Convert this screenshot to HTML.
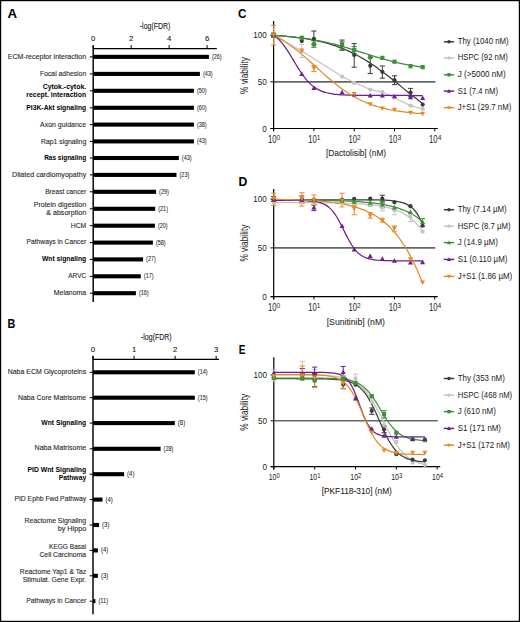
<!DOCTYPE html>
<html><head><meta charset="utf-8"><style>
html,body{margin:0;padding:0;background:#fff;}
body{width:520px;height:622px;overflow:hidden;}
svg{display:block;font-family:"Liberation Sans", sans-serif;}
</style></head><body>
<svg width="520" height="622" viewBox="0 0 520 622">
<rect x="0" y="0" width="520" height="622" fill="#fff"/>
<text x="7.40" y="18.40" font-size="13.2" text-anchor="start" font-weight="bold" fill="#000" textLength="9.60" lengthAdjust="spacingAndGlyphs" >A</text>
<text x="7.60" y="328.40" font-size="12.2" text-anchor="start" font-weight="bold" fill="#000" textLength="7.80" lengthAdjust="spacingAndGlyphs" >B</text>
<text x="238.00" y="17.90" font-size="12.2" text-anchor="start" font-weight="bold" fill="#000" textLength="8.40" lengthAdjust="spacingAndGlyphs" >C</text>
<text x="238.40" y="185.90" font-size="12.2" text-anchor="start" font-weight="bold" fill="#000" textLength="8.80" lengthAdjust="spacingAndGlyphs" >D</text>
<text x="238.70" y="354.10" font-size="12.4" text-anchor="start" font-weight="bold" fill="#000" textLength="6.70" lengthAdjust="spacingAndGlyphs" >E</text>
<line x1="93.20" y1="48.60" x2="216.80" y2="48.60" stroke="#000" stroke-width="1.35"/>
<line x1="93.20" y1="45.40" x2="93.20" y2="302.00" stroke="#000" stroke-width="1.45"/>
<line x1="93.20" y1="45.10" x2="93.20" y2="48.60" stroke="#000" stroke-width="1"/>
<text x="93.20" y="40.80" font-size="8.0" text-anchor="middle" font-weight="normal" fill="#1a1a1a" textLength="4.30" lengthAdjust="spacingAndGlyphs"  stroke="#1a1a1a" stroke-width="0.12">0</text>
<line x1="131.16" y1="45.10" x2="131.16" y2="48.60" stroke="#000" stroke-width="1"/>
<text x="131.16" y="40.80" font-size="8.0" text-anchor="middle" font-weight="normal" fill="#1a1a1a" textLength="4.30" lengthAdjust="spacingAndGlyphs"  stroke="#1a1a1a" stroke-width="0.12">2</text>
<line x1="169.12" y1="45.10" x2="169.12" y2="48.60" stroke="#000" stroke-width="1"/>
<text x="169.12" y="40.80" font-size="8.0" text-anchor="middle" font-weight="normal" fill="#1a1a1a" textLength="4.30" lengthAdjust="spacingAndGlyphs"  stroke="#1a1a1a" stroke-width="0.12">4</text>
<line x1="207.08" y1="45.10" x2="207.08" y2="48.60" stroke="#000" stroke-width="1"/>
<text x="207.08" y="40.80" font-size="8.0" text-anchor="middle" font-weight="normal" fill="#1a1a1a" textLength="4.30" lengthAdjust="spacingAndGlyphs"  stroke="#1a1a1a" stroke-width="0.12">6</text>
<text x="155.10" y="29.00" font-size="9" text-anchor="middle" font-weight="normal" fill="#222" textLength="30.60" lengthAdjust="spacingAndGlyphs"  stroke="#222" stroke-width="0.12">-log(FDR)</text>
<rect x="93.20" y="54.80" width="115.70" height="4.10" fill="#000"/>
<line x1="89.80" y1="56.85" x2="93.20" y2="56.85" stroke="#000" stroke-width="1"/>
<text x="211.90" y="58.85" font-size="6.3" text-anchor="start" font-weight="normal" fill="#222" textLength="9.80" lengthAdjust="spacingAndGlyphs" stroke="#222" stroke-width="0.05">(26)</text>
<text x="86.20" y="59.40" font-size="7.4" text-anchor="end" font-weight="normal" fill="#2a2a2a" textLength="78.50" lengthAdjust="spacingAndGlyphs"  stroke="#2a2a2a" stroke-width="0.12">ECM-receptor interaction</text>
<rect x="93.20" y="71.85" width="106.70" height="4.10" fill="#000"/>
<line x1="89.80" y1="73.90" x2="93.20" y2="73.90" stroke="#000" stroke-width="1"/>
<text x="202.90" y="75.90" font-size="6.3" text-anchor="start" font-weight="normal" fill="#222" textLength="9.80" lengthAdjust="spacingAndGlyphs" stroke="#222" stroke-width="0.05">(43)</text>
<text x="86.20" y="75.80" font-size="7.4" text-anchor="end" font-weight="normal" fill="#2a2a2a" textLength="46.20" lengthAdjust="spacingAndGlyphs"  stroke="#2a2a2a" stroke-width="0.12">Focal adhesion</text>
<rect x="93.20" y="88.75" width="100.70" height="4.10" fill="#000"/>
<line x1="89.80" y1="90.80" x2="93.20" y2="90.80" stroke="#000" stroke-width="1"/>
<text x="196.90" y="92.80" font-size="6.3" text-anchor="start" font-weight="normal" fill="#222" textLength="9.80" lengthAdjust="spacingAndGlyphs" stroke="#222" stroke-width="0.05">(50)</text>
<text x="86.20" y="89.20" font-size="7.4" text-anchor="end" font-weight="bold" fill="#000" textLength="43.50" lengthAdjust="spacingAndGlyphs" >Cytok.-cytok.</text>
<text x="86.20" y="96.90" font-size="7.4" text-anchor="end" font-weight="bold" fill="#000" textLength="59.90" lengthAdjust="spacingAndGlyphs" >recept. interaction</text>
<rect x="93.20" y="105.75" width="100.70" height="4.10" fill="#000"/>
<line x1="89.80" y1="107.80" x2="93.20" y2="107.80" stroke="#000" stroke-width="1"/>
<text x="196.90" y="109.80" font-size="6.3" text-anchor="start" font-weight="normal" fill="#222" textLength="9.80" lengthAdjust="spacingAndGlyphs" stroke="#222" stroke-width="0.05">(60)</text>
<text x="86.20" y="109.80" font-size="7.4" text-anchor="end" font-weight="bold" fill="#000" textLength="59.90" lengthAdjust="spacingAndGlyphs" >PI3K-Akt signaling</text>
<rect x="93.20" y="122.55" width="100.70" height="4.10" fill="#000"/>
<line x1="89.80" y1="124.60" x2="93.20" y2="124.60" stroke="#000" stroke-width="1"/>
<text x="196.90" y="126.60" font-size="6.3" text-anchor="start" font-weight="normal" fill="#222" textLength="9.80" lengthAdjust="spacingAndGlyphs" stroke="#222" stroke-width="0.05">(38)</text>
<text x="86.20" y="126.50" font-size="7.4" text-anchor="end" font-weight="normal" fill="#2a2a2a" textLength="46.20" lengthAdjust="spacingAndGlyphs"  stroke="#2a2a2a" stroke-width="0.12">Axon guidance</text>
<rect x="93.20" y="139.35" width="100.70" height="4.10" fill="#000"/>
<line x1="89.80" y1="141.40" x2="93.20" y2="141.40" stroke="#000" stroke-width="1"/>
<text x="196.90" y="143.40" font-size="6.3" text-anchor="start" font-weight="normal" fill="#222" textLength="9.80" lengthAdjust="spacingAndGlyphs" stroke="#222" stroke-width="0.05">(43)</text>
<text x="86.20" y="143.50" font-size="7.4" text-anchor="end" font-weight="normal" fill="#2a2a2a" textLength="45.20" lengthAdjust="spacingAndGlyphs"  stroke="#2a2a2a" stroke-width="0.12">Rap1 signaling</text>
<rect x="93.20" y="155.95" width="85.60" height="4.10" fill="#000"/>
<line x1="89.80" y1="158.00" x2="93.20" y2="158.00" stroke="#000" stroke-width="1"/>
<text x="181.80" y="160.00" font-size="6.3" text-anchor="start" font-weight="normal" fill="#222" textLength="9.80" lengthAdjust="spacingAndGlyphs" stroke="#222" stroke-width="0.05">(43)</text>
<text x="86.20" y="160.20" font-size="7.4" text-anchor="end" font-weight="bold" fill="#000" textLength="42.00" lengthAdjust="spacingAndGlyphs" >Ras signaling</text>
<rect x="93.20" y="172.85" width="83.30" height="4.10" fill="#000"/>
<line x1="89.80" y1="174.90" x2="93.20" y2="174.90" stroke="#000" stroke-width="1"/>
<text x="179.50" y="176.90" font-size="6.3" text-anchor="start" font-weight="normal" fill="#222" textLength="9.80" lengthAdjust="spacingAndGlyphs" stroke="#222" stroke-width="0.05">(23)</text>
<text x="86.20" y="176.90" font-size="7.4" text-anchor="end" font-weight="normal" fill="#2a2a2a" textLength="74.10" lengthAdjust="spacingAndGlyphs"  stroke="#2a2a2a" stroke-width="0.12">Dilated cardiomyopathy</text>
<rect x="93.20" y="189.75" width="62.90" height="4.10" fill="#000"/>
<line x1="89.80" y1="191.80" x2="93.20" y2="191.80" stroke="#000" stroke-width="1"/>
<text x="159.10" y="193.80" font-size="6.3" text-anchor="start" font-weight="normal" fill="#222" textLength="9.80" lengthAdjust="spacingAndGlyphs" stroke="#222" stroke-width="0.05">(29)</text>
<text x="86.20" y="194.40" font-size="7.4" text-anchor="end" font-weight="normal" fill="#2a2a2a" textLength="41.00" lengthAdjust="spacingAndGlyphs"  stroke="#2a2a2a" stroke-width="0.12">Breast cancer</text>
<rect x="93.20" y="206.75" width="62.00" height="4.10" fill="#000"/>
<line x1="89.80" y1="208.80" x2="93.20" y2="208.80" stroke="#000" stroke-width="1"/>
<text x="158.20" y="210.80" font-size="6.3" text-anchor="start" font-weight="normal" fill="#222" textLength="9.80" lengthAdjust="spacingAndGlyphs" stroke="#222" stroke-width="0.05">(21)</text>
<text x="86.20" y="206.90" font-size="7.4" text-anchor="end" font-weight="normal" fill="#2a2a2a" textLength="52.50" lengthAdjust="spacingAndGlyphs"  stroke="#2a2a2a" stroke-width="0.12">Protein digestion</text>
<text x="86.20" y="215.20" font-size="7.4" text-anchor="end" font-weight="normal" fill="#2a2a2a" textLength="40.00" lengthAdjust="spacingAndGlyphs"  stroke="#2a2a2a" stroke-width="0.12">&amp; absorption</text>
<rect x="93.20" y="223.65" width="61.70" height="4.10" fill="#000"/>
<line x1="89.80" y1="225.70" x2="93.20" y2="225.70" stroke="#000" stroke-width="1"/>
<text x="157.90" y="227.70" font-size="6.3" text-anchor="start" font-weight="normal" fill="#222" textLength="9.80" lengthAdjust="spacingAndGlyphs" stroke="#222" stroke-width="0.05">(20)</text>
<text x="86.20" y="227.70" font-size="7.4" text-anchor="end" font-weight="normal" fill="#2a2a2a" textLength="15.40" lengthAdjust="spacingAndGlyphs"  stroke="#2a2a2a" stroke-width="0.12">HCM</text>
<rect x="93.20" y="240.55" width="59.70" height="4.10" fill="#000"/>
<line x1="89.80" y1="242.60" x2="93.20" y2="242.60" stroke="#000" stroke-width="1"/>
<text x="155.90" y="244.60" font-size="6.3" text-anchor="start" font-weight="normal" fill="#222" textLength="9.80" lengthAdjust="spacingAndGlyphs" stroke="#222" stroke-width="0.05">(58)</text>
<text x="86.20" y="244.40" font-size="7.4" text-anchor="end" font-weight="normal" fill="#2a2a2a" textLength="59.70" lengthAdjust="spacingAndGlyphs"  stroke="#2a2a2a" stroke-width="0.12">Pathways in Cancer</text>
<rect x="93.20" y="257.35" width="49.90" height="4.10" fill="#000"/>
<line x1="89.80" y1="259.40" x2="93.20" y2="259.40" stroke="#000" stroke-width="1"/>
<text x="146.10" y="261.40" font-size="6.3" text-anchor="start" font-weight="normal" fill="#222" textLength="9.80" lengthAdjust="spacingAndGlyphs" stroke="#222" stroke-width="0.05">(27)</text>
<text x="86.20" y="261.30" font-size="7.4" text-anchor="end" font-weight="bold" fill="#000" textLength="44.30" lengthAdjust="spacingAndGlyphs" >Wnt signaling</text>
<rect x="93.20" y="274.25" width="47.60" height="4.10" fill="#000"/>
<line x1="89.80" y1="276.30" x2="93.20" y2="276.30" stroke="#000" stroke-width="1"/>
<text x="143.80" y="278.30" font-size="6.3" text-anchor="start" font-weight="normal" fill="#222" textLength="9.80" lengthAdjust="spacingAndGlyphs" stroke="#222" stroke-width="0.05">(17)</text>
<text x="86.20" y="278.10" font-size="7.4" text-anchor="end" font-weight="normal" fill="#2a2a2a" textLength="17.90" lengthAdjust="spacingAndGlyphs"  stroke="#2a2a2a" stroke-width="0.12">ARVC</text>
<rect x="93.20" y="291.15" width="42.70" height="4.10" fill="#000"/>
<line x1="89.80" y1="293.20" x2="93.20" y2="293.20" stroke="#000" stroke-width="1"/>
<text x="138.90" y="295.20" font-size="6.3" text-anchor="start" font-weight="normal" fill="#222" textLength="9.80" lengthAdjust="spacingAndGlyphs" stroke="#222" stroke-width="0.05">(16)</text>
<text x="86.20" y="295.00" font-size="7.4" text-anchor="end" font-weight="normal" fill="#2a2a2a" textLength="32.40" lengthAdjust="spacingAndGlyphs"  stroke="#2a2a2a" stroke-width="0.12">Melanoma</text>
<line x1="93.00" y1="359.30" x2="219.00" y2="359.30" stroke="#000" stroke-width="1.35"/>
<line x1="93.00" y1="356.10" x2="93.00" y2="614.20" stroke="#000" stroke-width="1.45"/>
<line x1="93.00" y1="355.80" x2="93.00" y2="359.30" stroke="#000" stroke-width="1"/>
<text x="93.00" y="351.50" font-size="8.0" text-anchor="middle" font-weight="normal" fill="#1a1a1a" textLength="4.30" lengthAdjust="spacingAndGlyphs"  stroke="#1a1a1a" stroke-width="0.12">0</text>
<line x1="134.05" y1="355.80" x2="134.05" y2="359.30" stroke="#000" stroke-width="1"/>
<text x="134.05" y="351.50" font-size="8.0" text-anchor="middle" font-weight="normal" fill="#1a1a1a" textLength="4.30" lengthAdjust="spacingAndGlyphs"  stroke="#1a1a1a" stroke-width="0.12">1</text>
<line x1="175.10" y1="355.80" x2="175.10" y2="359.30" stroke="#000" stroke-width="1"/>
<text x="175.10" y="351.50" font-size="8.0" text-anchor="middle" font-weight="normal" fill="#1a1a1a" textLength="4.30" lengthAdjust="spacingAndGlyphs"  stroke="#1a1a1a" stroke-width="0.12">2</text>
<line x1="216.15" y1="355.80" x2="216.15" y2="359.30" stroke="#000" stroke-width="1"/>
<text x="216.15" y="351.50" font-size="8.0" text-anchor="middle" font-weight="normal" fill="#1a1a1a" textLength="4.30" lengthAdjust="spacingAndGlyphs"  stroke="#1a1a1a" stroke-width="0.12">3</text>
<text x="156.30" y="339.70" font-size="9" text-anchor="middle" font-weight="normal" fill="#222" textLength="30.60" lengthAdjust="spacingAndGlyphs"  stroke="#222" stroke-width="0.12">-log(FDR)</text>
<rect x="93.00" y="370.25" width="101.80" height="4.10" fill="#000"/>
<line x1="89.60" y1="372.30" x2="93.00" y2="372.30" stroke="#000" stroke-width="1"/>
<text x="197.80" y="374.30" font-size="6.3" text-anchor="start" font-weight="normal" fill="#222" textLength="9.80" lengthAdjust="spacingAndGlyphs" stroke="#222" stroke-width="0.05">(14)</text>
<text x="86.20" y="374.20" font-size="7.4" text-anchor="end" font-weight="normal" fill="#2a2a2a" textLength="78.50" lengthAdjust="spacingAndGlyphs"  stroke="#2a2a2a" stroke-width="0.12">Naba ECM Glycoproteins</text>
<rect x="93.00" y="395.65" width="101.80" height="4.10" fill="#000"/>
<line x1="89.60" y1="397.70" x2="93.00" y2="397.70" stroke="#000" stroke-width="1"/>
<text x="197.80" y="399.70" font-size="6.3" text-anchor="start" font-weight="normal" fill="#222" textLength="9.80" lengthAdjust="spacingAndGlyphs" stroke="#222" stroke-width="0.05">(15)</text>
<text x="86.20" y="399.60" font-size="7.4" text-anchor="end" font-weight="normal" fill="#2a2a2a" textLength="68.30" lengthAdjust="spacingAndGlyphs"  stroke="#2a2a2a" stroke-width="0.12">Naba Core Matrisome</text>
<rect x="93.00" y="421.05" width="81.80" height="4.10" fill="#000"/>
<line x1="89.60" y1="423.10" x2="93.00" y2="423.10" stroke="#000" stroke-width="1"/>
<text x="177.80" y="425.10" font-size="6.3" text-anchor="start" font-weight="normal" fill="#222" textLength="7.35" lengthAdjust="spacingAndGlyphs" stroke="#222" stroke-width="0.05">(8)</text>
<text x="86.20" y="425.20" font-size="7.4" text-anchor="end" font-weight="bold" fill="#000" textLength="44.90" lengthAdjust="spacingAndGlyphs" >Wnt Signaling</text>
<rect x="93.00" y="446.75" width="67.60" height="4.10" fill="#000"/>
<line x1="89.60" y1="448.80" x2="93.00" y2="448.80" stroke="#000" stroke-width="1"/>
<text x="163.60" y="450.80" font-size="6.3" text-anchor="start" font-weight="normal" fill="#222" textLength="9.80" lengthAdjust="spacingAndGlyphs" stroke="#222" stroke-width="0.05">(28)</text>
<text x="86.20" y="450.40" font-size="7.4" text-anchor="end" font-weight="normal" fill="#2a2a2a" textLength="51.60" lengthAdjust="spacingAndGlyphs"  stroke="#2a2a2a" stroke-width="0.12">Naba Matrisome</text>
<rect x="93.00" y="472.15" width="31.10" height="4.10" fill="#000"/>
<line x1="89.60" y1="474.20" x2="93.00" y2="474.20" stroke="#000" stroke-width="1"/>
<text x="127.10" y="476.20" font-size="6.3" text-anchor="start" font-weight="normal" fill="#222" textLength="7.35" lengthAdjust="spacingAndGlyphs" stroke="#222" stroke-width="0.05">(4)</text>
<text x="86.20" y="472.10" font-size="7.4" text-anchor="end" font-weight="bold" fill="#000" textLength="58.70" lengthAdjust="spacingAndGlyphs" >PID Wnt Signaling</text>
<text x="86.20" y="480.20" font-size="7.4" text-anchor="end" font-weight="bold" fill="#000" textLength="27.50" lengthAdjust="spacingAndGlyphs" >Pathway</text>
<rect x="93.00" y="497.55" width="9.50" height="4.10" fill="#000"/>
<line x1="89.60" y1="499.60" x2="93.00" y2="499.60" stroke="#000" stroke-width="1"/>
<text x="105.50" y="501.60" font-size="6.3" text-anchor="start" font-weight="normal" fill="#222" textLength="7.35" lengthAdjust="spacingAndGlyphs" stroke="#222" stroke-width="0.05">(4)</text>
<text x="86.20" y="501.30" font-size="7.4" text-anchor="end" font-weight="normal" fill="#2a2a2a" textLength="71.80" lengthAdjust="spacingAndGlyphs"  stroke="#2a2a2a" stroke-width="0.12">PID Ephb Fwd Pathway</text>
<rect x="93.00" y="522.95" width="6.10" height="4.10" fill="#000"/>
<line x1="89.60" y1="525.00" x2="93.00" y2="525.00" stroke="#000" stroke-width="1"/>
<text x="102.10" y="527.00" font-size="6.3" text-anchor="start" font-weight="normal" fill="#222" textLength="7.35" lengthAdjust="spacingAndGlyphs" stroke="#222" stroke-width="0.05">(3)</text>
<text x="86.20" y="523.10" font-size="7.4" text-anchor="end" font-weight="normal" fill="#2a2a2a" textLength="61.60" lengthAdjust="spacingAndGlyphs"  stroke="#2a2a2a" stroke-width="0.12">Reactome Signaling</text>
<text x="86.20" y="531.20" font-size="7.4" text-anchor="end" font-weight="normal" fill="#2a2a2a" textLength="28.50" lengthAdjust="spacingAndGlyphs"  stroke="#2a2a2a" stroke-width="0.12">by Hippo</text>
<rect x="93.00" y="548.35" width="4.90" height="4.10" fill="#000"/>
<line x1="89.60" y1="550.40" x2="93.00" y2="550.40" stroke="#000" stroke-width="1"/>
<text x="100.90" y="552.40" font-size="6.3" text-anchor="start" font-weight="normal" fill="#222" textLength="7.35" lengthAdjust="spacingAndGlyphs" stroke="#222" stroke-width="0.05">(4)</text>
<text x="86.20" y="548.50" font-size="7.4" text-anchor="end" font-weight="normal" fill="#2a2a2a" textLength="37.20" lengthAdjust="spacingAndGlyphs"  stroke="#2a2a2a" stroke-width="0.12">KEGG Basal</text>
<text x="86.20" y="556.70" font-size="7.4" text-anchor="end" font-weight="normal" fill="#2a2a2a" textLength="46.80" lengthAdjust="spacingAndGlyphs"  stroke="#2a2a2a" stroke-width="0.12">Cell Carcinoma</text>
<rect x="93.00" y="573.75" width="4.90" height="4.10" fill="#000"/>
<line x1="89.60" y1="575.80" x2="93.00" y2="575.80" stroke="#000" stroke-width="1"/>
<text x="100.90" y="577.80" font-size="6.3" text-anchor="start" font-weight="normal" fill="#222" textLength="7.35" lengthAdjust="spacingAndGlyphs" stroke="#222" stroke-width="0.05">(3)</text>
<text x="86.20" y="574.00" font-size="7.4" text-anchor="end" font-weight="normal" fill="#2a2a2a" textLength="66.40" lengthAdjust="spacingAndGlyphs"  stroke="#2a2a2a" stroke-width="0.12">Reactome Yap1 &amp; Taz</text>
<text x="86.20" y="582.10" font-size="7.4" text-anchor="end" font-weight="normal" fill="#2a2a2a" textLength="63.50" lengthAdjust="spacingAndGlyphs"  stroke="#2a2a2a" stroke-width="0.12">Stimulat. Gene Expr.</text>
<rect x="93.00" y="599.15" width="2.40" height="4.10" fill="#000"/>
<line x1="89.60" y1="601.20" x2="93.00" y2="601.20" stroke="#000" stroke-width="1"/>
<text x="98.40" y="603.20" font-size="6.3" text-anchor="start" font-weight="normal" fill="#222" textLength="9.80" lengthAdjust="spacingAndGlyphs" stroke="#222" stroke-width="0.05">(11)</text>
<text x="86.20" y="603.20" font-size="7.4" text-anchor="end" font-weight="normal" fill="#2a2a2a" textLength="60.00" lengthAdjust="spacingAndGlyphs"  stroke="#2a2a2a" stroke-width="0.12">Pathways in Cancer</text>
<line x1="273.70" y1="247.90" x2="435.20" y2="247.90" stroke="#666" stroke-width="1.6"/>
<line x1="273.70" y1="189.00" x2="273.70" y2="299.50" stroke="#000" stroke-width="1.2"/>
<line x1="270.70" y1="296.70" x2="437.70" y2="296.70" stroke="#000" stroke-width="1.2"/>
<line x1="270.50" y1="296.70" x2="273.70" y2="296.70" stroke="#000" stroke-width="1"/>
<text x="266.80" y="299.70" font-size="9.9" text-anchor="end" font-weight="normal" fill="#1a1a1a" textLength="4.50" lengthAdjust="spacingAndGlyphs" stroke="none">0</text>
<line x1="270.50" y1="247.90" x2="273.70" y2="247.90" stroke="#000" stroke-width="1"/>
<text x="266.80" y="250.90" font-size="9.9" text-anchor="end" font-weight="normal" fill="#1a1a1a" textLength="9.00" lengthAdjust="spacingAndGlyphs" stroke="none">50</text>
<line x1="270.50" y1="199.10" x2="273.70" y2="199.10" stroke="#000" stroke-width="1"/>
<text x="266.80" y="202.10" font-size="9.9" text-anchor="end" font-weight="normal" fill="#1a1a1a" textLength="13.50" lengthAdjust="spacingAndGlyphs" stroke="none">100</text>
<line x1="273.70" y1="296.70" x2="273.70" y2="299.50" stroke="#000" stroke-width="1"/>
<text x="268.00" y="310.60" font-size="10.4" text-anchor="start" font-weight="normal" fill="#1a1a1a" textLength="8.50" lengthAdjust="spacingAndGlyphs" stroke="none">10</text>
<text x="276.60" y="307.80" font-size="7.6" text-anchor="start" font-weight="normal" fill="#1a1a1a" textLength="3.70" lengthAdjust="spacingAndGlyphs" stroke="none">0</text>
<line x1="313.95" y1="296.70" x2="313.95" y2="299.50" stroke="#000" stroke-width="1"/>
<text x="308.25" y="310.60" font-size="10.4" text-anchor="start" font-weight="normal" fill="#1a1a1a" textLength="8.50" lengthAdjust="spacingAndGlyphs" stroke="none">10</text>
<text x="316.85" y="307.80" font-size="7.6" text-anchor="start" font-weight="normal" fill="#1a1a1a" textLength="3.70" lengthAdjust="spacingAndGlyphs" stroke="none">1</text>
<line x1="354.20" y1="296.70" x2="354.20" y2="299.50" stroke="#000" stroke-width="1"/>
<text x="348.50" y="310.60" font-size="10.4" text-anchor="start" font-weight="normal" fill="#1a1a1a" textLength="8.50" lengthAdjust="spacingAndGlyphs" stroke="none">10</text>
<text x="357.10" y="307.80" font-size="7.6" text-anchor="start" font-weight="normal" fill="#1a1a1a" textLength="3.70" lengthAdjust="spacingAndGlyphs" stroke="none">2</text>
<line x1="394.45" y1="296.70" x2="394.45" y2="299.50" stroke="#000" stroke-width="1"/>
<text x="388.75" y="310.60" font-size="10.4" text-anchor="start" font-weight="normal" fill="#1a1a1a" textLength="8.50" lengthAdjust="spacingAndGlyphs" stroke="none">10</text>
<text x="397.35" y="307.80" font-size="7.6" text-anchor="start" font-weight="normal" fill="#1a1a1a" textLength="3.70" lengthAdjust="spacingAndGlyphs" stroke="none">3</text>
<line x1="434.70" y1="296.70" x2="434.70" y2="299.50" stroke="#000" stroke-width="1"/>
<text x="429.00" y="310.60" font-size="10.4" text-anchor="start" font-weight="normal" fill="#1a1a1a" textLength="8.50" lengthAdjust="spacingAndGlyphs" stroke="none">10</text>
<text x="437.60" y="307.80" font-size="7.6" text-anchor="start" font-weight="normal" fill="#1a1a1a" textLength="3.70" lengthAdjust="spacingAndGlyphs" stroke="none">4</text>
<text transform="translate(247.6,243.10) rotate(-90)" font-size="10" text-anchor="middle" fill="#222" textLength="37" lengthAdjust="spacingAndGlyphs">% viability</text>
<text x="326.70" y="325.20" font-size="9.6" text-anchor="start" font-weight="normal" fill="#222" textLength="58.30" lengthAdjust="spacingAndGlyphs" stroke="#222" stroke-width="0.06">[Sunitinib] (nM)</text>
<path d="M273.70,202.68 C274.32,202.68 276.18,202.68 277.42,202.68 C278.66,202.68 279.90,202.68 281.14,202.68 C282.38,202.69 283.63,202.69 284.87,202.69 C286.11,202.69 287.35,202.69 288.59,202.69 C289.83,202.70 291.07,202.70 292.31,202.70 C293.55,202.70 294.79,202.70 296.03,202.71 C297.27,202.71 298.51,202.71 299.75,202.72 C301.00,202.72 302.24,202.72 303.48,202.73 C304.72,202.73 305.96,202.74 307.20,202.74 C308.44,202.75 309.68,202.75 310.92,202.76 C312.16,202.76 313.40,202.77 314.64,202.78 C315.88,202.79 317.12,202.79 318.37,202.80 C319.61,202.81 320.85,202.82 322.09,202.83 C323.33,202.84 324.57,202.85 325.81,202.87 C327.05,202.88 328.29,202.89 329.53,202.91 C330.77,202.92 332.01,202.94 333.25,202.96 C334.49,202.98 335.73,203.00 336.98,203.02 C338.22,203.05 339.46,203.07 340.70,203.10 C341.94,203.13 343.18,203.16 344.42,203.19 C345.66,203.22 346.90,203.26 348.14,203.30 C349.38,203.34 350.62,203.39 351.86,203.43 C353.10,203.48 354.35,203.54 355.59,203.60 C356.83,203.66 358.07,203.72 359.31,203.79 C360.55,203.86 361.79,203.94 363.03,204.03 C364.27,204.12 365.51,204.21 366.75,204.32 C367.99,204.42 369.23,204.54 370.47,204.66 C371.71,204.79 372.96,204.93 374.20,205.08 C375.44,205.24 376.68,205.40 377.92,205.59 C379.16,205.78 380.40,205.98 381.64,206.21 C382.88,206.43 384.12,206.68 385.36,206.95 C386.60,207.22 387.84,207.52 389.08,207.85 C390.33,208.18 391.57,208.54 392.81,208.94 C394.05,209.34 395.29,209.77 396.53,210.26 C397.77,210.74 399.01,211.26 400.25,211.85 C401.49,212.44 402.73,213.07 403.97,213.78 C405.21,214.49 406.45,215.25 407.70,216.11 C408.94,216.97 410.18,217.89 411.42,218.93 C412.66,219.97 413.90,221.09 415.14,222.35 C416.38,223.61 417.62,224.96 418.86,226.48 C420.10,228.00 421.96,230.64 422.58,231.48" fill="none" stroke="#c4c4c4" stroke-width="1.25"/>
<path d="M273.70,199.76 C274.32,199.76 276.18,199.76 277.42,199.76 C278.66,199.76 279.90,199.76 281.14,199.76 C282.38,199.76 283.63,199.76 284.87,199.76 C286.11,199.76 287.35,199.76 288.59,199.76 C289.83,199.76 291.07,199.76 292.31,199.76 C293.55,199.76 294.79,199.76 296.03,199.76 C297.27,199.76 298.51,199.76 299.75,199.76 C301.00,199.76 302.24,199.76 303.48,199.76 C304.72,199.76 305.96,199.76 307.20,199.76 C308.44,199.76 309.68,199.76 310.92,199.76 C312.16,199.76 313.40,199.76 314.64,199.76 C315.88,199.76 317.12,199.76 318.37,199.76 C319.61,199.76 320.85,199.76 322.09,199.76 C323.33,199.76 324.57,199.76 325.81,199.76 C327.05,199.76 328.29,199.76 329.53,199.76 C330.77,199.76 332.01,199.76 333.25,199.76 C334.49,199.76 335.73,199.76 336.98,199.76 C338.22,199.76 339.46,199.77 340.70,199.77 C341.94,199.77 343.18,199.77 344.42,199.77 C345.66,199.77 346.90,199.77 348.14,199.77 C349.38,199.77 350.62,199.77 351.86,199.77 C353.10,199.78 354.35,199.78 355.59,199.78 C356.83,199.78 358.07,199.79 359.31,199.79 C360.55,199.79 361.79,199.80 363.03,199.80 C364.27,199.81 365.51,199.82 366.75,199.82 C367.99,199.83 369.23,199.84 370.47,199.86 C371.71,199.87 372.96,199.88 374.20,199.90 C375.44,199.92 376.68,199.94 377.92,199.97 C379.16,200.00 380.40,200.03 381.64,200.07 C382.88,200.12 384.12,200.16 385.36,200.23 C386.60,200.29 387.84,200.36 389.08,200.45 C390.33,200.55 391.57,200.65 392.81,200.79 C394.05,200.93 395.29,201.08 396.53,201.29 C397.77,201.50 399.01,201.73 400.25,202.04 C401.49,202.36 402.73,202.70 403.97,203.16 C405.21,203.63 406.45,204.14 407.70,204.83 C408.94,205.52 410.18,206.28 411.42,207.31 C412.66,208.34 413.90,209.47 415.14,211.00 C416.38,212.53 417.62,214.22 418.86,216.50 C420.10,218.79 421.96,223.33 422.58,224.70" fill="none" stroke="#3a3a3a" stroke-width="1.25"/>
<path d="M273.70,200.15 C274.32,200.15 276.18,200.16 277.42,200.16 C278.66,200.16 279.90,200.16 281.14,200.17 C282.38,200.17 283.63,200.18 284.87,200.18 C286.11,200.18 287.35,200.19 288.59,200.19 C289.83,200.20 291.07,200.20 292.31,200.21 C293.55,200.21 294.79,200.22 296.03,200.22 C297.27,200.23 298.51,200.24 299.75,200.25 C301.00,200.25 302.24,200.26 303.48,200.27 C304.72,200.28 305.96,200.29 307.20,200.30 C308.44,200.31 309.68,200.32 310.92,200.33 C312.16,200.34 313.40,200.35 314.64,200.37 C315.88,200.38 317.12,200.39 318.37,200.41 C319.61,200.43 320.85,200.44 322.09,200.46 C323.33,200.48 324.57,200.50 325.81,200.52 C327.05,200.54 328.29,200.56 329.53,200.59 C330.77,200.61 332.01,200.64 333.25,200.67 C334.49,200.70 335.73,200.73 336.98,200.76 C338.22,200.80 339.46,200.83 340.70,200.87 C341.94,200.91 343.18,200.95 344.42,201.00 C345.66,201.04 346.90,201.09 348.14,201.14 C349.38,201.20 350.62,201.25 351.86,201.31 C353.10,201.38 354.35,201.44 355.59,201.51 C356.83,201.59 358.07,201.66 359.31,201.74 C360.55,201.83 361.79,201.92 363.03,202.01 C364.27,202.11 365.51,202.21 366.75,202.33 C367.99,202.44 369.23,202.56 370.47,202.69 C371.71,202.82 372.96,202.96 374.20,203.11 C375.44,203.27 376.68,203.43 377.92,203.61 C379.16,203.78 380.40,203.97 381.64,204.18 C382.88,204.39 384.12,204.61 385.36,204.85 C386.60,205.09 387.84,205.34 389.08,205.62 C390.33,205.90 391.57,206.20 392.81,206.53 C394.05,206.85 395.29,207.20 396.53,207.58 C397.77,207.95 399.01,208.36 400.25,208.80 C401.49,209.24 402.73,209.71 403.97,210.22 C405.21,210.73 406.45,211.28 407.70,211.87 C408.94,212.47 410.18,213.10 411.42,213.80 C412.66,214.49 413.90,215.23 415.14,216.04 C416.38,216.84 417.62,217.70 418.86,218.64 C420.10,219.58 421.96,221.16 422.58,221.67" fill="none" stroke="#3f8f3a" stroke-width="1.25"/>
<path d="M273.70,200.35 C274.32,200.35 276.18,200.35 277.42,200.36 C278.66,200.36 279.90,200.36 281.14,200.36 C282.38,200.36 283.63,200.37 284.87,200.37 C286.11,200.37 287.35,200.38 288.59,200.38 C289.83,200.39 291.07,200.39 292.31,200.40 C293.55,200.41 294.79,200.43 296.03,200.44 C297.27,200.46 298.51,200.48 299.75,200.50 C301.00,200.53 302.24,200.56 303.48,200.60 C304.72,200.65 305.96,200.69 307.20,200.77 C308.44,200.84 309.68,200.92 310.92,201.04 C312.16,201.16 313.40,201.29 314.64,201.48 C315.88,201.67 317.12,201.88 318.37,202.19 C319.61,202.50 320.85,202.85 322.09,203.34 C323.33,203.82 324.57,204.38 325.81,205.13 C327.05,205.88 328.29,206.74 329.53,207.86 C330.77,208.98 332.01,210.27 333.25,211.83 C334.49,213.39 335.73,215.21 336.98,217.23 C338.22,219.25 339.46,221.58 340.70,223.95 C341.94,226.31 343.18,228.95 344.42,231.43 C345.66,233.91 346.90,236.51 348.14,238.82 C349.38,241.13 350.62,243.36 351.86,245.28 C353.10,247.21 354.35,248.91 355.59,250.37 C356.83,251.83 358.07,253.02 359.31,254.05 C360.55,255.08 361.79,255.86 363.03,256.55 C364.27,257.24 365.51,257.73 366.75,258.18 C367.99,258.62 369.23,258.93 370.47,259.21 C371.71,259.49 372.96,259.68 374.20,259.86 C375.44,260.03 376.68,260.15 377.92,260.25 C379.16,260.36 380.40,260.43 381.64,260.50 C382.88,260.56 384.12,260.60 385.36,260.64 C386.60,260.68 387.84,260.71 389.08,260.73 C390.33,260.76 391.57,260.77 392.81,260.79 C394.05,260.80 395.29,260.81 396.53,260.82 C397.77,260.83 399.01,260.84 400.25,260.84 C401.49,260.85 402.73,260.85 403.97,260.85 C405.21,260.86 406.45,260.86 407.70,260.86 C408.94,260.86 410.18,260.86 411.42,260.87 C412.66,260.87 413.90,260.87 415.14,260.87 C416.38,260.87 417.62,260.87 418.86,260.87 C420.10,260.87 421.96,260.87 422.58,260.87" fill="none" stroke="#6b1f8c" stroke-width="1.25"/>
<path d="M273.70,199.34 C274.32,199.35 276.18,199.38 277.42,199.40 C278.66,199.42 279.90,199.44 281.14,199.46 C282.38,199.49 283.63,199.51 284.87,199.54 C286.11,199.57 287.35,199.59 288.59,199.63 C289.83,199.66 291.07,199.69 292.31,199.73 C293.55,199.76 294.79,199.80 296.03,199.84 C297.27,199.88 298.51,199.92 299.75,199.97 C301.00,200.02 302.24,200.07 303.48,200.12 C304.72,200.18 305.96,200.23 307.20,200.30 C308.44,200.36 309.68,200.43 310.92,200.50 C312.16,200.57 313.40,200.64 314.64,200.73 C315.88,200.81 317.12,200.90 318.37,200.99 C319.61,201.09 320.85,201.19 322.09,201.29 C323.33,201.40 324.57,201.52 325.81,201.64 C327.05,201.77 328.29,201.90 329.53,202.04 C330.77,202.19 332.01,202.34 333.25,202.50 C334.49,202.67 335.73,202.84 336.98,203.03 C338.22,203.22 339.46,203.42 340.70,203.64 C341.94,203.86 343.18,204.09 344.42,204.34 C345.66,204.58 346.90,204.85 348.14,205.13 C349.38,205.42 350.62,205.72 351.86,206.05 C353.10,206.38 354.35,206.72 355.59,207.10 C356.83,207.47 358.07,207.87 359.31,208.30 C360.55,208.72 361.79,209.18 363.03,209.67 C364.27,210.16 365.51,210.68 366.75,211.24 C367.99,211.80 369.23,212.39 370.47,213.03 C371.71,213.67 372.96,214.34 374.20,215.07 C375.44,215.80 376.68,216.57 377.92,217.40 C379.16,218.23 380.40,219.10 381.64,220.04 C382.88,220.98 384.12,221.98 385.36,223.05 C386.60,224.12 387.84,225.24 389.08,226.45 C390.33,227.66 391.57,228.94 392.81,230.30 C394.05,231.67 395.29,233.11 396.53,234.65 C397.77,236.19 399.01,237.81 400.25,239.54 C401.49,241.27 402.73,243.09 403.97,245.02 C405.21,246.96 406.45,249.00 407.70,251.16 C408.94,253.32 410.18,255.58 411.42,257.98 C412.66,260.38 413.90,262.90 415.14,265.55 C416.38,268.21 417.62,270.99 418.86,273.91 C420.10,276.83 421.96,281.55 422.58,283.08" fill="none" stroke="#e38b25" stroke-width="1.25"/>
<path d="M382.33,210.81 V203.98 M379.73,210.81 H384.93 M379.73,203.98 H384.93" stroke="#c4c4c4" stroke-width="1" fill="none"/>
<path d="M394.45,214.72 V208.86 M391.85,214.72 H397.05 M391.85,208.86 H397.05" stroke="#c4c4c4" stroke-width="1" fill="none"/>
<path d="M410.47,221.55 V214.72 M407.87,221.55 H413.07 M407.87,214.72 H413.07" stroke="#c4c4c4" stroke-width="1" fill="none"/>
<path d="M382.33,203.00 V195.20 M379.73,203.00 H384.93 M379.73,195.20 H384.93" stroke="#3a3a3a" stroke-width="1" fill="none"/>
<path d="M370.22,205.93 V200.08 M367.62,205.93 H372.82 M367.62,200.08 H372.82" stroke="#3f8f3a" stroke-width="1" fill="none"/>
<path d="M382.33,207.88 V201.54 M379.73,207.88 H384.93 M379.73,201.54 H384.93" stroke="#3f8f3a" stroke-width="1" fill="none"/>
<path d="M422.58,226.43 V218.62 M419.98,226.43 H425.18 M419.98,218.62 H425.18" stroke="#3f8f3a" stroke-width="1" fill="none"/>
<path d="M273.70,201.25 V196.46 M271.10,201.25 H276.30 M271.10,196.46 H276.30" stroke="#6b1f8c" stroke-width="1" fill="none"/>
<path d="M301.83,203.10 V195.98 M299.23,203.10 H304.43 M299.23,195.98 H304.43" stroke="#6b1f8c" stroke-width="1" fill="none"/>
<path d="M313.95,210.62 V204.96 M311.35,210.62 H316.55 M311.35,204.96 H316.55" stroke="#6b1f8c" stroke-width="1" fill="none"/>
<path d="M273.70,205.44 V193.15 M271.10,205.44 H276.30 M271.10,193.15 H276.30" stroke="#e38b25" stroke-width="1" fill="none"/>
<path d="M301.83,206.13 V192.76 M299.23,206.13 H304.43 M299.23,192.76 H304.43" stroke="#e38b25" stroke-width="1" fill="none"/>
<path d="M313.95,204.96 V195.00 M311.35,204.96 H316.55 M311.35,195.00 H316.55" stroke="#e38b25" stroke-width="1" fill="none"/>
<path d="M342.08,206.91 V193.24 M339.48,206.91 H344.68 M339.48,193.24 H344.68" stroke="#e38b25" stroke-width="1" fill="none"/>
<path d="M354.20,214.72 V205.44 M351.60,214.72 H356.80 M351.60,205.44 H356.80" stroke="#e38b25" stroke-width="1" fill="none"/>
<path d="M370.22,218.13 V212.76 M367.62,218.13 H372.82 M367.62,212.76 H372.82" stroke="#e38b25" stroke-width="1" fill="none"/>
<path d="M382.33,222.04 V218.13 M379.73,222.04 H384.93 M379.73,218.13 H384.93" stroke="#e38b25" stroke-width="1" fill="none"/>
<path d="M394.45,231.80 V225.94 M391.85,231.80 H397.05 M391.85,225.94 H397.05" stroke="#e38b25" stroke-width="1" fill="none"/>
<circle cx="273.70" cy="202.52" r="2.10" fill="#c4c4c4"/>
<circle cx="301.83" cy="202.52" r="2.10" fill="#c4c4c4"/>
<circle cx="313.95" cy="203.00" r="2.10" fill="#c4c4c4"/>
<circle cx="342.08" cy="203.00" r="2.10" fill="#c4c4c4"/>
<circle cx="354.20" cy="203.69" r="2.10" fill="#c4c4c4"/>
<circle cx="370.22" cy="204.86" r="2.10" fill="#c4c4c4"/>
<circle cx="382.33" cy="206.62" r="2.10" fill="#c4c4c4"/>
<circle cx="394.45" cy="210.13" r="2.10" fill="#c4c4c4"/>
<circle cx="410.47" cy="216.96" r="2.10" fill="#c4c4c4"/>
<circle cx="422.58" cy="231.70" r="2.10" fill="#c4c4c4"/>
<circle cx="273.70" cy="199.10" r="2.10" fill="#3a3a3a"/>
<circle cx="301.83" cy="199.10" r="2.10" fill="#3a3a3a"/>
<circle cx="313.95" cy="199.59" r="2.10" fill="#3a3a3a"/>
<circle cx="342.08" cy="199.69" r="2.10" fill="#3a3a3a"/>
<circle cx="354.20" cy="198.81" r="2.10" fill="#3a3a3a"/>
<circle cx="370.22" cy="198.51" r="2.10" fill="#3a3a3a"/>
<circle cx="382.33" cy="198.51" r="2.10" fill="#3a3a3a"/>
<circle cx="394.45" cy="202.32" r="2.10" fill="#3a3a3a"/>
<circle cx="410.47" cy="206.13" r="2.10" fill="#3a3a3a"/>
<circle cx="422.58" cy="225.74" r="2.10" fill="#3a3a3a"/>
<path d="M273.70,196.96 L276.22,201.48 L271.18,201.48 Z" fill="#3f8f3a"/>
<path d="M301.83,197.45 L304.35,201.97 L299.31,201.97 Z" fill="#3f8f3a"/>
<path d="M313.95,197.94 L316.47,202.45 L311.43,202.45 Z" fill="#3f8f3a"/>
<path d="M342.08,198.43 L344.60,202.94 L339.56,202.94 Z" fill="#3f8f3a"/>
<path d="M354.20,199.21 L356.72,203.72 L351.68,203.72 Z" fill="#3f8f3a"/>
<path d="M370.22,200.18 L372.74,204.70 L367.70,204.70 Z" fill="#3f8f3a"/>
<path d="M382.33,201.94 L384.85,206.46 L379.81,206.46 Z" fill="#3f8f3a"/>
<path d="M394.45,204.87 L396.97,209.38 L391.93,209.38 Z" fill="#3f8f3a"/>
<path d="M410.47,209.55 L412.99,214.07 L407.95,214.07 Z" fill="#3f8f3a"/>
<path d="M422.58,219.61 L425.10,224.12 L420.06,224.12 Z" fill="#3f8f3a"/>
<path d="M273.70,197.16 L276.22,201.67 L271.18,201.67 Z" fill="#6b1f8c"/>
<path d="M301.83,197.45 L304.35,201.97 L299.31,201.97 Z" fill="#6b1f8c"/>
<path d="M313.95,204.87 L316.47,209.38 L311.43,209.38 Z" fill="#6b1f8c"/>
<path d="M342.08,223.61 L344.60,228.12 L339.56,228.12 Z" fill="#6b1f8c"/>
<path d="M354.20,246.93 L356.72,251.45 L351.68,251.45 Z" fill="#6b1f8c"/>
<path d="M370.22,253.38 L372.74,257.89 L367.70,257.89 Z" fill="#6b1f8c"/>
<path d="M382.33,256.21 L384.85,260.72 L379.81,260.72 Z" fill="#6b1f8c"/>
<path d="M394.45,258.26 L396.97,262.77 L391.93,262.77 Z" fill="#6b1f8c"/>
<path d="M410.47,260.01 L412.99,264.53 L407.95,264.53 Z" fill="#6b1f8c"/>
<path d="M422.58,259.62 L425.10,264.14 L420.06,264.14 Z" fill="#6b1f8c"/>
<path d="M273.70,200.94 L276.22,196.43 L271.18,196.43 Z" fill="#e38b25"/>
<path d="M301.83,201.24 L304.35,196.72 L299.31,196.72 Z" fill="#e38b25"/>
<path d="M313.95,202.41 L316.47,197.89 L311.43,197.89 Z" fill="#e38b25"/>
<path d="M342.08,203.09 L344.60,198.58 L339.56,198.58 Z" fill="#e38b25"/>
<path d="M354.20,211.00 L356.72,206.48 L351.68,206.48 Z" fill="#e38b25"/>
<path d="M370.22,217.93 L372.74,213.41 L367.70,213.41 Z" fill="#e38b25"/>
<path d="M382.33,223.20 L384.85,218.68 L379.81,218.68 Z" fill="#e38b25"/>
<path d="M394.45,231.00 L396.97,226.49 L391.93,226.49 Z" fill="#e38b25"/>
<path d="M410.47,261.65 L412.99,257.14 L407.95,257.14 Z" fill="#e38b25"/>
<path d="M422.58,285.08 L425.10,280.56 L420.06,280.56 Z" fill="#e38b25"/>
<line x1="443.8" y1="209.70" x2="454.2" y2="209.70" stroke="#3a3a3a" stroke-width="1.45"/>
<circle cx="449.00" cy="209.70" r="1.70" fill="#3a3a3a"/>
<text x="457.70" y="212.20" font-size="8.8" text-anchor="start" font-weight="normal" fill="#1a1a1a" textLength="49.00" lengthAdjust="spacingAndGlyphs" stroke="none">Thy (7.14 µM)</text>
<line x1="443.8" y1="226.20" x2="454.2" y2="226.20" stroke="#c4c4c4" stroke-width="1.45"/>
<circle cx="449.00" cy="226.20" r="1.70" fill="#c4c4c4"/>
<text x="457.70" y="228.70" font-size="8.8" text-anchor="start" font-weight="normal" fill="#1a1a1a" textLength="52.80" lengthAdjust="spacingAndGlyphs" stroke="none">HSPC (8.7 µM)</text>
<line x1="443.8" y1="242.60" x2="454.2" y2="242.60" stroke="#3f8f3a" stroke-width="1.45"/>
<path d="M449.00,240.47 L451.04,244.13 L446.96,244.13 Z" fill="#3f8f3a"/>
<text x="457.70" y="245.10" font-size="8.8" text-anchor="start" font-weight="normal" fill="#1a1a1a" textLength="40.10" lengthAdjust="spacingAndGlyphs" stroke="none">J (14.9 µM)</text>
<line x1="443.8" y1="259.40" x2="454.2" y2="259.40" stroke="#6b1f8c" stroke-width="1.45"/>
<path d="M449.00,257.27 L451.04,260.93 L446.96,260.93 Z" fill="#6b1f8c"/>
<text x="457.70" y="261.90" font-size="8.8" text-anchor="start" font-weight="normal" fill="#1a1a1a" textLength="49.70" lengthAdjust="spacingAndGlyphs" stroke="none">S1 (0.110 µM)</text>
<line x1="443.8" y1="276.40" x2="454.2" y2="276.40" stroke="#e38b25" stroke-width="1.45"/>
<path d="M449.00,278.52 L451.04,274.87 L446.96,274.87 Z" fill="#e38b25"/>
<text x="457.70" y="278.90" font-size="8.8" text-anchor="start" font-weight="normal" fill="#1a1a1a" textLength="54.50" lengthAdjust="spacingAndGlyphs" stroke="none">J+S1 (1.86 µM)</text>
<line x1="273.80" y1="420.80" x2="437.70" y2="420.80" stroke="#666" stroke-width="1.6"/>
<line x1="273.80" y1="357.30" x2="273.80" y2="469.50" stroke="#000" stroke-width="1.2"/>
<line x1="270.80" y1="466.70" x2="440.20" y2="466.70" stroke="#000" stroke-width="1.2"/>
<line x1="270.60" y1="466.70" x2="273.80" y2="466.70" stroke="#000" stroke-width="1"/>
<text x="266.90" y="469.70" font-size="9.9" text-anchor="end" font-weight="normal" fill="#1a1a1a" textLength="4.50" lengthAdjust="spacingAndGlyphs" stroke="none">0</text>
<line x1="270.60" y1="420.80" x2="273.80" y2="420.80" stroke="#000" stroke-width="1"/>
<text x="266.90" y="423.80" font-size="9.9" text-anchor="end" font-weight="normal" fill="#1a1a1a" textLength="9.00" lengthAdjust="spacingAndGlyphs" stroke="none">50</text>
<line x1="270.60" y1="374.90" x2="273.80" y2="374.90" stroke="#000" stroke-width="1"/>
<text x="266.90" y="377.90" font-size="9.9" text-anchor="end" font-weight="normal" fill="#1a1a1a" textLength="13.50" lengthAdjust="spacingAndGlyphs" stroke="none">100</text>
<line x1="273.80" y1="466.70" x2="273.80" y2="469.50" stroke="#000" stroke-width="1"/>
<text x="268.65" y="480.10" font-size="9.4" text-anchor="start" font-weight="normal" fill="#1a1a1a" textLength="7.68" lengthAdjust="spacingAndGlyphs" stroke="none">10</text>
<text x="276.42" y="477.57" font-size="6.869230769230769" text-anchor="start" font-weight="normal" fill="#1a1a1a" textLength="3.34" lengthAdjust="spacingAndGlyphs" stroke="none">0</text>
<line x1="314.65" y1="466.70" x2="314.65" y2="469.50" stroke="#000" stroke-width="1"/>
<text x="309.50" y="480.10" font-size="9.4" text-anchor="start" font-weight="normal" fill="#1a1a1a" textLength="7.68" lengthAdjust="spacingAndGlyphs" stroke="none">10</text>
<text x="317.27" y="477.57" font-size="6.869230769230769" text-anchor="start" font-weight="normal" fill="#1a1a1a" textLength="3.34" lengthAdjust="spacingAndGlyphs" stroke="none">1</text>
<line x1="355.50" y1="466.70" x2="355.50" y2="469.50" stroke="#000" stroke-width="1"/>
<text x="350.35" y="480.10" font-size="9.4" text-anchor="start" font-weight="normal" fill="#1a1a1a" textLength="7.68" lengthAdjust="spacingAndGlyphs" stroke="none">10</text>
<text x="358.12" y="477.57" font-size="6.869230769230769" text-anchor="start" font-weight="normal" fill="#1a1a1a" textLength="3.34" lengthAdjust="spacingAndGlyphs" stroke="none">2</text>
<line x1="396.35" y1="466.70" x2="396.35" y2="469.50" stroke="#000" stroke-width="1"/>
<text x="391.20" y="480.10" font-size="9.4" text-anchor="start" font-weight="normal" fill="#1a1a1a" textLength="7.68" lengthAdjust="spacingAndGlyphs" stroke="none">10</text>
<text x="398.97" y="477.57" font-size="6.869230769230769" text-anchor="start" font-weight="normal" fill="#1a1a1a" textLength="3.34" lengthAdjust="spacingAndGlyphs" stroke="none">3</text>
<line x1="437.20" y1="466.70" x2="437.20" y2="469.50" stroke="#000" stroke-width="1"/>
<text x="432.05" y="480.10" font-size="9.4" text-anchor="start" font-weight="normal" fill="#1a1a1a" textLength="7.68" lengthAdjust="spacingAndGlyphs" stroke="none">10</text>
<text x="439.82" y="477.57" font-size="6.869230769230769" text-anchor="start" font-weight="normal" fill="#1a1a1a" textLength="3.34" lengthAdjust="spacingAndGlyphs" stroke="none">4</text>
<text transform="translate(247.6,412.30) rotate(-90)" font-size="10" text-anchor="middle" fill="#222" textLength="37" lengthAdjust="spacingAndGlyphs">% viability</text>
<text x="321.70" y="494.40" font-size="9.6" text-anchor="start" font-weight="normal" fill="#222" textLength="70.20" lengthAdjust="spacingAndGlyphs" stroke="#222" stroke-width="0.06">[PKF118-310] (nM)</text>
<path d="M273.80,374.93 C274.43,374.93 276.32,374.93 277.58,374.93 C278.84,374.93 280.10,374.93 281.36,374.93 C282.61,374.94 283.87,374.94 285.13,374.94 C286.39,374.94 287.65,374.94 288.91,374.95 C290.17,374.95 291.43,374.95 292.69,374.96 C293.95,374.96 295.21,374.96 296.47,374.97 C297.72,374.98 298.98,374.98 300.24,374.99 C301.50,375.00 302.76,375.01 304.02,375.02 C305.28,375.03 306.54,375.04 307.80,375.05 C309.06,375.07 310.32,375.08 311.58,375.10 C312.83,375.12 314.09,375.15 315.35,375.17 C316.61,375.20 317.87,375.23 319.13,375.27 C320.39,375.31 321.65,375.35 322.91,375.41 C324.17,375.46 325.43,375.52 326.69,375.59 C327.95,375.67 329.20,375.75 330.46,375.85 C331.72,375.96 332.98,376.07 334.24,376.21 C335.50,376.35 336.76,376.51 338.02,376.70 C339.28,376.90 340.54,377.11 341.80,377.38 C343.06,377.64 344.31,377.94 345.57,378.30 C346.83,378.66 348.09,379.06 349.35,379.54 C350.61,380.03 351.87,380.57 353.13,381.22 C354.39,381.86 355.65,382.58 356.91,383.43 C358.17,384.29 359.42,385.23 360.68,386.33 C361.94,387.43 363.20,388.65 364.46,390.04 C365.72,391.42 366.98,392.96 368.24,394.65 C369.50,396.35 370.76,398.21 372.02,400.21 C373.28,402.21 374.54,404.39 375.79,406.64 C377.05,408.90 378.31,411.33 379.57,413.76 C380.83,416.19 382.09,418.75 383.35,421.25 C384.61,423.74 385.87,426.29 387.13,428.71 C388.39,431.13 389.65,433.53 390.90,435.77 C392.16,438.00 393.42,440.15 394.68,442.12 C395.94,444.09 397.20,445.92 398.46,447.58 C399.72,449.24 400.98,450.74 402.24,452.10 C403.50,453.45 404.76,454.64 406.02,455.72 C407.27,456.79 408.53,457.71 409.79,458.54 C411.05,459.37 412.31,460.07 413.57,460.70 C414.83,461.33 416.09,461.85 417.35,462.32 C418.61,462.79 419.87,463.18 421.13,463.53 C422.38,463.88 424.27,464.27 424.90,464.42" fill="none" stroke="#c4c4c4" stroke-width="1.25"/>
<path d="M273.80,378.74 C274.43,378.74 276.32,378.74 277.58,378.74 C278.84,378.74 280.10,378.74 281.36,378.74 C282.61,378.74 283.87,378.74 285.13,378.74 C286.39,378.74 287.65,378.74 288.91,378.74 C290.17,378.74 291.43,378.74 292.69,378.74 C293.95,378.74 295.21,378.75 296.47,378.75 C297.72,378.75 298.98,378.75 300.24,378.75 C301.50,378.75 302.76,378.76 304.02,378.76 C305.28,378.76 306.54,378.77 307.80,378.77 C309.06,378.78 310.32,378.78 311.58,378.79 C312.83,378.79 314.09,378.80 315.35,378.81 C316.61,378.82 317.87,378.84 319.13,378.85 C320.39,378.87 321.65,378.89 322.91,378.91 C324.17,378.93 325.43,378.96 326.69,379.00 C327.95,379.04 329.20,379.08 330.46,379.13 C331.72,379.19 332.98,379.25 334.24,379.33 C335.50,379.42 336.76,379.51 338.02,379.64 C339.28,379.76 340.54,379.90 341.80,380.09 C343.06,380.28 344.31,380.48 345.57,380.76 C346.83,381.04 348.09,381.35 349.35,381.77 C350.61,382.18 351.87,382.63 353.13,383.23 C354.39,383.83 355.65,384.50 356.91,385.35 C358.17,386.21 359.42,387.17 360.68,388.36 C361.94,389.54 363.20,390.88 364.46,392.48 C365.72,394.07 366.98,395.87 368.24,397.90 C369.50,399.94 370.76,402.23 372.02,404.68 C373.28,407.12 374.54,409.84 375.79,412.59 C377.05,415.33 378.31,418.30 379.57,421.14 C380.83,423.98 382.09,426.93 383.35,429.64 C384.61,432.36 385.87,435.03 387.13,437.42 C388.39,439.82 389.65,442.05 390.90,444.02 C392.16,445.99 393.42,447.73 394.68,449.26 C395.94,450.80 397.20,452.08 398.46,453.22 C399.72,454.36 400.98,455.27 402.24,456.09 C403.50,456.90 404.76,457.54 406.02,458.11 C407.27,458.68 408.53,459.11 409.79,459.50 C411.05,459.89 412.31,460.19 413.57,460.45 C414.83,460.72 416.09,460.91 417.35,461.09 C418.61,461.27 419.87,461.40 421.13,461.52 C422.38,461.64 424.27,461.76 424.90,461.81" fill="none" stroke="#3a3a3a" stroke-width="1.25"/>
<path d="M273.80,378.11 C274.43,378.11 276.32,378.11 277.58,378.11 C278.84,378.11 280.10,378.11 281.36,378.11 C282.61,378.11 283.87,378.11 285.13,378.11 C286.39,378.11 287.65,378.11 288.91,378.11 C290.17,378.11 291.43,378.11 292.69,378.11 C293.95,378.11 295.21,378.11 296.47,378.11 C297.72,378.11 298.98,378.11 300.24,378.12 C301.50,378.12 302.76,378.12 304.02,378.12 C305.28,378.12 306.54,378.13 307.80,378.13 C309.06,378.14 310.32,378.14 311.58,378.14 C312.83,378.15 314.09,378.16 315.35,378.16 C316.61,378.17 317.87,378.18 319.13,378.19 C320.39,378.21 321.65,378.22 322.91,378.24 C324.17,378.26 325.43,378.28 326.69,378.30 C327.95,378.33 329.20,378.36 330.46,378.40 C331.72,378.44 332.98,378.49 334.24,378.55 C335.50,378.61 336.76,378.68 338.02,378.77 C339.28,378.86 340.54,378.96 341.80,379.09 C343.06,379.23 344.31,379.38 345.57,379.57 C346.83,379.77 348.09,379.99 349.35,380.28 C350.61,380.56 351.87,380.89 353.13,381.30 C354.39,381.72 355.65,382.18 356.91,382.77 C358.17,383.36 359.42,384.02 360.68,384.84 C361.94,385.66 363.20,386.58 364.46,387.68 C365.72,388.78 366.98,390.02 368.24,391.43 C369.50,392.85 370.76,394.44 372.02,396.16 C373.28,397.88 374.54,399.80 375.79,401.76 C377.05,403.73 378.31,405.87 379.57,407.96 C380.83,410.04 382.09,412.23 383.35,414.28 C384.61,416.33 385.87,418.39 387.13,420.25 C388.39,422.12 389.65,423.89 390.90,425.47 C392.16,427.05 393.42,428.48 394.68,429.75 C395.94,431.01 397.20,432.10 398.46,433.06 C399.72,434.02 400.98,434.81 402.24,435.52 C403.50,436.22 404.76,436.79 406.02,437.29 C407.27,437.79 408.53,438.18 409.79,438.53 C411.05,438.88 412.31,439.15 413.57,439.40 C414.83,439.64 416.09,439.82 417.35,439.98 C418.61,440.15 419.87,440.27 421.13,440.38 C422.38,440.50 424.27,440.61 424.90,440.66" fill="none" stroke="#3f8f3a" stroke-width="1.25"/>
<path d="M273.80,372.32 C274.43,372.32 276.32,372.32 277.58,372.32 C278.84,372.32 280.10,372.32 281.36,372.32 C282.61,372.32 283.87,372.32 285.13,372.32 C286.39,372.32 287.65,372.32 288.91,372.32 C290.17,372.32 291.43,372.32 292.69,372.32 C293.95,372.32 295.21,372.32 296.47,372.32 C297.72,372.32 298.98,372.32 300.24,372.32 C301.50,372.32 302.76,372.32 304.02,372.32 C305.28,372.33 306.54,372.33 307.80,372.33 C309.06,372.33 310.32,372.33 311.58,372.34 C312.83,372.34 314.09,372.35 315.35,372.35 C316.61,372.36 317.87,372.37 319.13,372.38 C320.39,372.40 321.65,372.42 322.91,372.44 C324.17,372.47 325.43,372.50 326.69,372.56 C327.95,372.61 329.20,372.67 330.46,372.77 C331.72,372.87 332.98,372.98 334.24,373.17 C335.50,373.37 336.76,373.57 338.02,373.93 C339.28,374.29 340.54,374.67 341.80,375.32 C343.06,375.97 344.31,376.69 345.57,377.82 C346.83,378.94 348.09,380.25 349.35,382.06 C350.61,383.87 351.87,386.06 353.13,388.67 C354.39,391.27 355.65,394.46 356.91,397.69 C358.17,400.91 359.42,404.68 360.68,408.01 C361.94,411.34 363.20,414.82 364.46,417.68 C365.72,420.55 366.98,423.10 368.24,425.19 C369.50,427.28 370.76,428.87 372.02,430.21 C373.28,431.55 374.54,432.45 375.79,433.24 C377.05,434.04 378.31,434.52 379.57,434.96 C380.83,435.41 382.09,435.66 383.35,435.90 C384.61,436.14 385.87,436.28 387.13,436.41 C388.39,436.53 389.65,436.61 390.90,436.67 C392.16,436.74 393.42,436.78 394.68,436.81 C395.94,436.85 397.20,436.87 398.46,436.89 C399.72,436.91 400.98,436.92 402.24,436.93 C403.50,436.94 404.76,436.94 406.02,436.95 C407.27,436.95 408.53,436.96 409.79,436.96 C411.05,436.96 412.31,436.96 413.57,436.96 C414.83,436.97 416.09,436.97 417.35,436.97 C418.61,436.97 419.87,436.97 421.13,436.97 C422.38,436.97 424.27,436.97 424.90,436.97" fill="none" stroke="#6b1f8c" stroke-width="1.25"/>
<path d="M273.80,374.50 C274.43,374.50 276.32,374.50 277.58,374.50 C278.84,374.50 280.10,374.50 281.36,374.50 C282.61,374.50 283.87,374.50 285.13,374.50 C286.39,374.51 287.65,374.51 288.91,374.51 C290.17,374.51 291.43,374.51 292.69,374.52 C293.95,374.52 295.21,374.52 296.47,374.53 C297.72,374.53 298.98,374.54 300.24,374.55 C301.50,374.55 302.76,374.56 304.02,374.58 C305.28,374.59 306.54,374.60 307.80,374.62 C309.06,374.64 310.32,374.66 311.58,374.69 C312.83,374.72 314.09,374.75 315.35,374.80 C316.61,374.84 317.87,374.89 319.13,374.96 C320.39,375.03 321.65,375.11 322.91,375.22 C324.17,375.33 325.43,375.45 326.69,375.62 C327.95,375.79 329.20,375.98 330.46,376.24 C331.72,376.49 332.98,376.78 334.24,377.17 C335.50,377.56 336.76,378.00 338.02,378.59 C339.28,379.17 340.54,379.83 341.80,380.69 C343.06,381.55 344.31,382.52 345.57,383.75 C346.83,384.97 348.09,386.36 349.35,388.03 C350.61,389.70 351.87,391.61 353.13,393.76 C354.39,395.91 355.65,398.36 356.91,400.95 C358.17,403.53 359.42,406.42 360.68,409.28 C361.94,412.14 363.20,415.22 364.46,418.11 C365.72,420.99 366.98,423.94 368.24,426.60 C369.50,429.25 370.76,431.80 372.02,434.04 C373.28,436.28 374.54,438.30 375.79,440.06 C377.05,441.82 378.31,443.30 379.57,444.60 C380.83,445.91 382.09,446.95 383.35,447.87 C384.61,448.79 385.87,449.50 387.13,450.14 C388.39,450.77 389.65,451.24 390.90,451.67 C392.16,452.09 393.42,452.40 394.68,452.68 C395.94,452.96 397.20,453.16 398.46,453.35 C399.72,453.53 400.98,453.66 402.24,453.78 C403.50,453.90 404.76,453.99 406.02,454.06 C407.27,454.14 408.53,454.19 409.79,454.24 C411.05,454.29 412.31,454.33 413.57,454.36 C414.83,454.39 416.09,454.42 417.35,454.44 C418.61,454.46 419.87,454.47 421.13,454.49 C422.38,454.50 424.27,454.51 424.90,454.52" fill="none" stroke="#e38b25" stroke-width="1.25"/>
<path d="M273.80,381.14 V369.94 M271.20,381.14 H276.40 M271.20,369.94 H276.40" stroke="#c4c4c4" stroke-width="1" fill="none"/>
<path d="M302.35,378.57 V361.31 M299.75,378.57 H304.95 M299.75,361.31 H304.95" stroke="#c4c4c4" stroke-width="1" fill="none"/>
<path d="M314.65,378.57 V369.39 M312.05,378.57 H317.25 M312.05,369.39 H317.25" stroke="#c4c4c4" stroke-width="1" fill="none"/>
<path d="M355.50,382.24 V373.98 M352.90,382.24 H358.10 M352.90,373.98 H358.10" stroke="#c4c4c4" stroke-width="1" fill="none"/>
<path d="M314.65,386.65 V378.57 M312.05,386.65 H317.25 M312.05,378.57 H317.25" stroke="#3a3a3a" stroke-width="1" fill="none"/>
<path d="M343.20,388.67 V379.49 M340.60,388.67 H345.80 M340.60,379.49 H345.80" stroke="#3a3a3a" stroke-width="1" fill="none"/>
<path d="M371.76,414.37 V407.95 M369.16,414.37 H374.36 M369.16,407.95 H374.36" stroke="#3a3a3a" stroke-width="1" fill="none"/>
<path d="M384.05,432.73 V426.31 M381.45,432.73 H386.65 M381.45,426.31 H386.65" stroke="#3a3a3a" stroke-width="1" fill="none"/>
<path d="M384.05,418.05 V410.70 M381.45,418.05 H386.65 M381.45,410.70 H386.65" stroke="#3f8f3a" stroke-width="1" fill="none"/>
<path d="M302.35,373.52 V368.57 M299.75,373.52 H304.95 M299.75,368.57 H304.95" stroke="#6b1f8c" stroke-width="1" fill="none"/>
<path d="M314.65,373.52 V367.10 M312.05,373.52 H317.25 M312.05,367.10 H317.25" stroke="#6b1f8c" stroke-width="1" fill="none"/>
<path d="M343.20,377.65 V366.45 M340.60,377.65 H345.80 M340.60,366.45 H345.80" stroke="#6b1f8c" stroke-width="1" fill="none"/>
<path d="M302.35,379.49 V366.00 M299.75,379.49 H304.95 M299.75,366.00 H304.95" stroke="#e38b25" stroke-width="1" fill="none"/>
<path d="M314.65,387.29 V375.82 M312.05,387.29 H317.25 M312.05,375.82 H317.25" stroke="#e38b25" stroke-width="1" fill="none"/>
<path d="M343.20,388.67 V375.82 M340.60,388.67 H345.80 M340.60,375.82 H345.80" stroke="#e38b25" stroke-width="1" fill="none"/>
<circle cx="273.80" cy="375.82" r="2.10" fill="#c4c4c4"/>
<circle cx="302.35" cy="374.90" r="2.10" fill="#c4c4c4"/>
<circle cx="314.65" cy="377.65" r="2.10" fill="#c4c4c4"/>
<circle cx="343.20" cy="377.65" r="2.10" fill="#c4c4c4"/>
<circle cx="355.50" cy="378.30" r="2.10" fill="#c4c4c4"/>
<circle cx="371.76" cy="401.89" r="2.10" fill="#c4c4c4"/>
<circle cx="384.05" cy="425.02" r="2.10" fill="#c4c4c4"/>
<circle cx="396.35" cy="441.91" r="2.10" fill="#c4c4c4"/>
<circle cx="412.61" cy="462.66" r="2.10" fill="#c4c4c4"/>
<circle cx="424.90" cy="464.96" r="2.10" fill="#c4c4c4"/>
<circle cx="273.80" cy="377.65" r="2.10" fill="#3a3a3a"/>
<circle cx="302.35" cy="377.65" r="2.10" fill="#3a3a3a"/>
<circle cx="314.65" cy="379.49" r="2.10" fill="#3a3a3a"/>
<circle cx="343.20" cy="384.45" r="2.10" fill="#3a3a3a"/>
<circle cx="355.50" cy="384.63" r="2.10" fill="#3a3a3a"/>
<circle cx="371.76" cy="410.79" r="2.10" fill="#3a3a3a"/>
<circle cx="384.05" cy="429.61" r="2.10" fill="#3a3a3a"/>
<circle cx="396.35" cy="454.22" r="2.10" fill="#3a3a3a"/>
<circle cx="412.61" cy="459.63" r="2.10" fill="#3a3a3a"/>
<circle cx="424.90" cy="460.37" r="2.10" fill="#3a3a3a"/>
<rect x="271.70" y="375.55" width="4.20" height="4.20" fill="#3f8f3a"/>
<rect x="300.25" y="376.56" width="4.20" height="4.20" fill="#3f8f3a"/>
<rect x="312.55" y="378.31" width="4.20" height="4.20" fill="#3f8f3a"/>
<rect x="341.10" y="376.47" width="4.20" height="4.20" fill="#3f8f3a"/>
<rect x="353.40" y="380.79" width="4.20" height="4.20" fill="#3f8f3a"/>
<rect x="369.66" y="394.10" width="4.20" height="4.20" fill="#3f8f3a"/>
<rect x="381.95" y="412.09" width="4.20" height="4.20" fill="#3f8f3a"/>
<rect x="394.25" y="430.63" width="4.20" height="4.20" fill="#3f8f3a"/>
<rect x="410.51" y="437.06" width="4.20" height="4.20" fill="#3f8f3a"/>
<rect x="422.80" y="437.98" width="4.20" height="4.20" fill="#3f8f3a"/>
<path d="M273.80,370.44 L276.32,374.95 L271.28,374.95 Z" fill="#6b1f8c"/>
<path d="M302.35,370.90 L304.87,375.41 L299.83,375.41 Z" fill="#6b1f8c"/>
<path d="M314.65,370.90 L317.17,375.41 L312.13,375.41 Z" fill="#6b1f8c"/>
<path d="M343.20,369.52 L345.72,374.04 L340.68,374.04 Z" fill="#6b1f8c"/>
<path d="M355.50,395.87 L358.02,400.38 L352.98,400.38 Z" fill="#6b1f8c"/>
<path d="M371.76,426.16 L374.28,430.68 L369.24,430.68 Z" fill="#6b1f8c"/>
<path d="M384.05,433.14 L386.57,437.65 L381.53,437.65 Z" fill="#6b1f8c"/>
<path d="M396.35,434.15 L398.87,438.66 L393.83,438.66 Z" fill="#6b1f8c"/>
<path d="M412.61,436.53 L415.13,441.05 L410.09,441.05 Z" fill="#6b1f8c"/>
<path d="M424.90,436.53 L427.42,441.05 L422.38,441.05 Z" fill="#6b1f8c"/>
<path d="M273.80,378.44 L276.32,373.93 L271.28,373.93 Z" fill="#e38b25"/>
<path d="M302.35,377.98 L304.87,373.47 L299.83,373.47 Z" fill="#e38b25"/>
<path d="M314.65,380.28 L317.17,375.76 L312.13,375.76 Z" fill="#e38b25"/>
<path d="M343.20,385.79 L345.72,381.27 L340.68,381.27 Z" fill="#e38b25"/>
<path d="M371.76,434.90 L374.28,430.38 L369.24,430.38 Z" fill="#e38b25"/>
<path d="M384.05,452.98 L386.57,448.47 L381.53,448.47 Z" fill="#e38b25"/>
<path d="M396.35,455.56 L398.87,451.04 L393.83,451.04 Z" fill="#e38b25"/>
<path d="M412.61,455.28 L415.13,450.76 L410.09,450.76 Z" fill="#e38b25"/>
<path d="M424.90,455.28 L427.42,450.76 L422.38,450.76 Z" fill="#e38b25"/>
<line x1="443.8" y1="378.50" x2="454.2" y2="378.50" stroke="#3a3a3a" stroke-width="1.45"/>
<circle cx="449.00" cy="378.50" r="1.70" fill="#3a3a3a"/>
<text x="457.70" y="381.00" font-size="8.8" text-anchor="start" font-weight="normal" fill="#1a1a1a" textLength="47.10" lengthAdjust="spacingAndGlyphs" stroke="none">Thy (353 nM)</text>
<line x1="443.8" y1="395.10" x2="454.2" y2="395.10" stroke="#c4c4c4" stroke-width="1.45"/>
<circle cx="449.00" cy="395.10" r="1.70" fill="#c4c4c4"/>
<text x="457.70" y="397.60" font-size="8.8" text-anchor="start" font-weight="normal" fill="#1a1a1a" textLength="54.50" lengthAdjust="spacingAndGlyphs" stroke="none">HSPC (468 nM)</text>
<line x1="443.8" y1="411.60" x2="454.2" y2="411.60" stroke="#3f8f3a" stroke-width="1.45"/>
<rect x="447.30" y="409.90" width="3.40" height="3.40" fill="#3f8f3a"/>
<text x="457.70" y="414.10" font-size="8.8" text-anchor="start" font-weight="normal" fill="#1a1a1a" textLength="38.10" lengthAdjust="spacingAndGlyphs" stroke="none">J (610 nM)</text>
<line x1="443.8" y1="428.40" x2="454.2" y2="428.40" stroke="#6b1f8c" stroke-width="1.45"/>
<path d="M449.00,426.27 L451.04,429.93 L446.96,429.93 Z" fill="#6b1f8c"/>
<text x="457.70" y="430.90" font-size="8.8" text-anchor="start" font-weight="normal" fill="#1a1a1a" textLength="43.30" lengthAdjust="spacingAndGlyphs" stroke="none">S1 (171 nM)</text>
<line x1="443.8" y1="445.20" x2="454.2" y2="445.20" stroke="#e38b25" stroke-width="1.45"/>
<path d="M449.00,447.32 L451.04,443.67 L446.96,443.67 Z" fill="#e38b25"/>
<text x="457.70" y="447.70" font-size="8.8" text-anchor="start" font-weight="normal" fill="#1a1a1a" textLength="52.30" lengthAdjust="spacingAndGlyphs" stroke="none">J+S1 (172 nM)</text>
<line x1="273.60" y1="81.85" x2="435.30" y2="81.85" stroke="#666" stroke-width="1.6"/>
<line x1="273.60" y1="21.10" x2="273.60" y2="131.30" stroke="#000" stroke-width="1.2"/>
<line x1="270.60" y1="128.50" x2="437.80" y2="128.50" stroke="#000" stroke-width="1.2"/>
<line x1="270.40" y1="128.50" x2="273.60" y2="128.50" stroke="#000" stroke-width="1"/>
<text x="266.70" y="131.50" font-size="9.9" text-anchor="end" font-weight="normal" fill="#1a1a1a" textLength="4.50" lengthAdjust="spacingAndGlyphs" stroke="none">0</text>
<line x1="270.40" y1="81.85" x2="273.60" y2="81.85" stroke="#000" stroke-width="1"/>
<text x="266.70" y="84.85" font-size="9.9" text-anchor="end" font-weight="normal" fill="#1a1a1a" textLength="9.00" lengthAdjust="spacingAndGlyphs" stroke="none">50</text>
<line x1="270.40" y1="35.20" x2="273.60" y2="35.20" stroke="#000" stroke-width="1"/>
<text x="266.70" y="38.20" font-size="9.9" text-anchor="end" font-weight="normal" fill="#1a1a1a" textLength="13.50" lengthAdjust="spacingAndGlyphs" stroke="none">100</text>
<line x1="273.60" y1="128.50" x2="273.60" y2="131.30" stroke="#000" stroke-width="1"/>
<text x="267.90" y="142.90" font-size="10.4" text-anchor="start" font-weight="normal" fill="#1a1a1a" textLength="8.50" lengthAdjust="spacingAndGlyphs" stroke="none">10</text>
<text x="276.50" y="140.10" font-size="7.6" text-anchor="start" font-weight="normal" fill="#1a1a1a" textLength="3.70" lengthAdjust="spacingAndGlyphs" stroke="none">0</text>
<line x1="313.90" y1="128.50" x2="313.90" y2="131.30" stroke="#000" stroke-width="1"/>
<text x="308.20" y="142.90" font-size="10.4" text-anchor="start" font-weight="normal" fill="#1a1a1a" textLength="8.50" lengthAdjust="spacingAndGlyphs" stroke="none">10</text>
<text x="316.80" y="140.10" font-size="7.6" text-anchor="start" font-weight="normal" fill="#1a1a1a" textLength="3.70" lengthAdjust="spacingAndGlyphs" stroke="none">1</text>
<line x1="354.20" y1="128.50" x2="354.20" y2="131.30" stroke="#000" stroke-width="1"/>
<text x="348.50" y="142.90" font-size="10.4" text-anchor="start" font-weight="normal" fill="#1a1a1a" textLength="8.50" lengthAdjust="spacingAndGlyphs" stroke="none">10</text>
<text x="357.10" y="140.10" font-size="7.6" text-anchor="start" font-weight="normal" fill="#1a1a1a" textLength="3.70" lengthAdjust="spacingAndGlyphs" stroke="none">2</text>
<line x1="394.50" y1="128.50" x2="394.50" y2="131.30" stroke="#000" stroke-width="1"/>
<text x="388.80" y="142.90" font-size="10.4" text-anchor="start" font-weight="normal" fill="#1a1a1a" textLength="8.50" lengthAdjust="spacingAndGlyphs" stroke="none">10</text>
<text x="397.40" y="140.10" font-size="7.6" text-anchor="start" font-weight="normal" fill="#1a1a1a" textLength="3.70" lengthAdjust="spacingAndGlyphs" stroke="none">3</text>
<line x1="434.80" y1="128.50" x2="434.80" y2="131.30" stroke="#000" stroke-width="1"/>
<text x="429.10" y="142.90" font-size="10.4" text-anchor="start" font-weight="normal" fill="#1a1a1a" textLength="8.50" lengthAdjust="spacingAndGlyphs" stroke="none">10</text>
<text x="437.70" y="140.10" font-size="7.6" text-anchor="start" font-weight="normal" fill="#1a1a1a" textLength="3.70" lengthAdjust="spacingAndGlyphs" stroke="none">4</text>
<text transform="translate(247.6,75.50) rotate(-90)" font-size="10" text-anchor="middle" fill="#222" textLength="37" lengthAdjust="spacingAndGlyphs">% viability</text>
<text x="326.00" y="156.20" font-size="9.6" text-anchor="start" font-weight="normal" fill="#222" textLength="60.10" lengthAdjust="spacingAndGlyphs" stroke="#222" stroke-width="0.06">[Dactolisib] (nM)</text>
<path d="M273.60,35.20 L301.77,51.06 L342.07,76.53 L354.20,82.50 L370.24,89.59 L382.37,92.02 L394.50,97.71 L410.54,105.55 L422.67,108.91" fill="none" stroke="#c4c4c4" stroke-width="1.25"/>
<path d="M273.60,35.33 C274.22,35.37 276.08,35.49 277.33,35.58 C278.57,35.67 279.81,35.76 281.05,35.86 C282.30,35.96 283.54,36.06 284.78,36.17 C286.02,36.28 287.26,36.40 288.51,36.52 C289.75,36.64 290.99,36.77 292.23,36.91 C293.48,37.04 294.72,37.18 295.96,37.34 C297.20,37.49 298.44,37.64 299.69,37.81 C300.93,37.98 302.17,38.15 303.41,38.34 C304.66,38.53 305.90,38.72 307.14,38.93 C308.38,39.13 309.62,39.35 310.87,39.57 C312.11,39.80 313.35,40.04 314.59,40.29 C315.84,40.54 317.08,40.81 318.32,41.08 C319.56,41.36 320.81,41.65 322.05,41.95 C323.29,42.26 324.53,42.58 325.77,42.91 C327.02,43.25 328.26,43.60 329.50,43.96 C330.74,44.33 331.99,44.71 333.23,45.12 C334.47,45.52 335.71,45.94 336.95,46.37 C338.20,46.81 339.44,47.27 340.68,47.74 C341.92,48.22 343.17,48.72 344.41,49.23 C345.65,49.75 346.89,50.29 348.13,50.84 C349.38,51.40 350.62,51.98 351.86,52.58 C353.10,53.18 354.35,53.81 355.59,54.45 C356.83,55.10 358.07,55.77 359.31,56.46 C360.56,57.14 361.80,57.86 363.04,58.59 C364.28,59.32 365.53,60.08 366.77,60.86 C368.01,61.63 369.25,62.43 370.49,63.25 C371.74,64.07 372.98,64.91 374.22,65.76 C375.46,66.62 376.71,67.50 377.95,68.39 C379.19,69.29 380.43,70.20 381.67,71.13 C382.92,72.05 384.16,73.00 385.40,73.95 C386.64,74.91 387.89,75.88 389.13,76.85 C390.37,77.83 391.61,78.82 392.85,79.82 C394.10,80.81 395.34,81.81 396.58,82.82 C397.82,83.83 399.07,84.84 400.31,85.85 C401.55,86.86 402.79,87.88 404.03,88.88 C405.28,89.89 406.52,90.90 407.76,91.90 C409.00,92.91 410.25,93.90 411.49,94.89 C412.73,95.88 413.97,96.86 415.22,97.82 C416.46,98.79 417.70,99.75 418.94,100.69 C420.18,101.63 422.05,103.01 422.67,103.47" fill="none" stroke="#3a3a3a" stroke-width="1.25"/>
<path d="M273.60,35.41 C274.22,35.45 276.08,35.56 277.33,35.64 C278.57,35.72 279.81,35.81 281.05,35.90 C282.30,35.99 283.54,36.09 284.78,36.19 C286.02,36.29 287.26,36.40 288.51,36.51 C289.75,36.63 290.99,36.74 292.23,36.87 C293.48,37.00 294.72,37.13 295.96,37.27 C297.20,37.41 298.44,37.55 299.69,37.71 C300.93,37.86 302.17,38.02 303.41,38.19 C304.66,38.36 305.90,38.54 307.14,38.73 C308.38,38.91 309.62,39.11 310.87,39.31 C312.11,39.51 313.35,39.73 314.59,39.95 C315.84,40.17 317.08,40.40 318.32,40.64 C319.56,40.88 320.81,41.13 322.05,41.39 C323.29,41.65 324.53,41.91 325.77,42.19 C327.02,42.47 328.26,42.76 329.50,43.06 C330.74,43.35 331.99,43.66 333.23,43.97 C334.47,44.29 335.71,44.61 336.95,44.95 C338.20,45.28 339.44,45.62 340.68,45.97 C341.92,46.31 343.17,46.67 344.41,47.03 C345.65,47.40 346.89,47.77 348.13,48.14 C349.38,48.51 350.62,48.90 351.86,49.28 C353.10,49.66 354.35,50.05 355.59,50.44 C356.83,50.83 358.07,51.23 359.31,51.62 C360.56,52.02 361.80,52.42 363.04,52.81 C364.28,53.21 365.53,53.61 366.77,54.00 C368.01,54.39 369.25,54.79 370.49,55.17 C371.74,55.56 372.98,55.95 374.22,56.33 C375.46,56.71 376.71,57.09 377.95,57.46 C379.19,57.83 380.43,58.19 381.67,58.55 C382.92,58.91 384.16,59.26 385.40,59.60 C386.64,59.94 387.89,60.28 389.13,60.60 C390.37,60.93 391.61,61.25 392.85,61.56 C394.10,61.86 395.34,62.16 396.58,62.45 C397.82,62.74 399.07,63.02 400.31,63.30 C401.55,63.57 402.79,63.83 404.03,64.08 C405.28,64.33 406.52,64.57 407.76,64.81 C409.00,65.04 410.25,65.26 411.49,65.48 C412.73,65.69 413.97,65.90 415.22,66.09 C416.46,66.29 417.70,66.48 418.94,66.66 C420.18,66.84 422.05,67.09 422.67,67.17" fill="none" stroke="#3f8f3a" stroke-width="1.25"/>
<path d="M273.60,34.94 C274.22,35.45 276.08,36.85 277.33,38.01 C278.57,39.17 279.81,40.47 281.05,41.91 C282.30,43.36 283.54,44.96 284.78,46.67 C286.02,48.39 287.26,50.27 288.51,52.20 C289.75,54.13 290.99,56.21 292.23,58.25 C293.48,60.30 294.72,62.44 295.96,64.48 C297.20,66.52 298.44,68.58 299.69,70.49 C300.93,72.39 302.17,74.24 303.41,75.93 C304.66,77.61 305.90,79.18 307.14,80.59 C308.38,82.00 309.62,83.26 310.87,84.39 C312.11,85.52 313.35,86.49 314.59,87.36 C315.84,88.24 317.08,88.97 318.32,89.62 C319.56,90.28 320.81,90.82 322.05,91.30 C323.29,91.78 324.53,92.17 325.77,92.52 C327.02,92.87 328.26,93.14 329.50,93.39 C330.74,93.64 331.99,93.84 333.23,94.02 C334.47,94.20 335.71,94.34 336.95,94.46 C338.20,94.59 339.44,94.68 340.68,94.77 C341.92,94.86 343.17,94.93 344.41,94.99 C345.65,95.05 346.89,95.10 348.13,95.14 C349.38,95.19 350.62,95.22 351.86,95.25 C353.10,95.28 354.35,95.30 355.59,95.32 C356.83,95.35 358.07,95.36 359.31,95.38 C360.56,95.39 361.80,95.40 363.04,95.41 C364.28,95.42 365.53,95.43 366.77,95.44 C368.01,95.45 369.25,95.45 370.49,95.46 C371.74,95.46 372.98,95.46 374.22,95.47 C375.46,95.47 376.71,95.47 377.95,95.48 C379.19,95.48 380.43,95.48 381.67,95.48 C382.92,95.48 384.16,95.49 385.40,95.49 C386.64,95.49 387.89,95.49 389.13,95.49 C390.37,95.49 391.61,95.49 392.85,95.49 C394.10,95.49 395.34,95.49 396.58,95.49 C397.82,95.49 399.07,95.49 400.31,95.49 C401.55,95.49 402.79,95.49 404.03,95.49 C405.28,95.49 406.52,95.49 407.76,95.49 C409.00,95.50 410.25,95.50 411.49,95.50 C412.73,95.50 413.97,95.50 415.22,95.50 C416.46,95.50 417.70,95.50 418.94,95.50 C420.18,95.50 422.05,95.50 422.67,95.50" fill="none" stroke="#6b1f8c" stroke-width="1.25"/>
<path d="M273.60,35.02 C274.22,35.34 276.08,36.29 277.33,36.98 C278.57,37.66 279.81,38.38 281.05,39.12 C282.30,39.86 283.54,40.64 284.78,41.45 C286.02,42.25 287.26,43.09 288.51,43.96 C289.75,44.82 290.99,45.72 292.23,46.64 C293.48,47.56 294.72,48.52 295.96,49.49 C297.20,50.47 298.44,51.48 299.69,52.50 C300.93,53.52 302.17,54.57 303.41,55.64 C304.66,56.70 305.90,57.79 307.14,58.88 C308.38,59.98 309.62,61.09 310.87,62.21 C312.11,63.32 313.35,64.45 314.59,65.58 C315.84,66.71 317.08,67.84 318.32,68.97 C319.56,70.10 320.81,71.23 322.05,72.34 C323.29,73.46 324.53,74.57 325.77,75.66 C327.02,76.76 328.26,77.84 329.50,78.90 C330.74,79.97 331.99,81.01 333.23,82.04 C334.47,83.06 335.71,84.06 336.95,85.03 C338.20,86.01 339.44,86.96 340.68,87.88 C341.92,88.80 343.17,89.69 344.41,90.55 C345.65,91.42 346.89,92.25 348.13,93.05 C349.38,93.86 350.62,94.63 351.86,95.37 C353.10,96.11 354.35,96.82 355.59,97.50 C356.83,98.18 358.07,98.83 359.31,99.45 C360.56,100.07 361.80,100.66 363.04,101.23 C364.28,101.79 365.53,102.33 366.77,102.83 C368.01,103.34 369.25,103.82 370.49,104.28 C371.74,104.74 372.98,105.17 374.22,105.58 C375.46,105.99 376.71,106.37 377.95,106.74 C379.19,107.10 380.43,107.44 381.67,107.77 C382.92,108.09 384.16,108.40 385.40,108.68 C386.64,108.97 387.89,109.24 389.13,109.49 C390.37,109.75 391.61,109.99 392.85,110.21 C394.10,110.44 395.34,110.64 396.58,110.84 C397.82,111.04 399.07,111.22 400.31,111.40 C401.55,111.57 402.79,111.73 404.03,111.88 C405.28,112.04 406.52,112.18 407.76,112.31 C409.00,112.45 410.25,112.57 411.49,112.69 C412.73,112.80 413.97,112.91 415.22,113.01 C416.46,113.12 417.70,113.21 418.94,113.30 C420.18,113.39 422.05,113.51 422.67,113.55" fill="none" stroke="#e38b25" stroke-width="1.25"/>
<path d="M301.77,57.59 V44.53 M299.17,57.59 H304.37 M299.17,44.53 H304.37" stroke="#c4c4c4" stroke-width="1" fill="none"/>
<path d="M313.90,44.53 V31.00 M311.30,44.53 H316.50 M311.30,31.00 H316.50" stroke="#3a3a3a" stroke-width="1" fill="none"/>
<path d="M342.07,49.20 V40.05 M339.47,49.20 H344.67 M339.47,40.05 H344.67" stroke="#3a3a3a" stroke-width="1" fill="none"/>
<path d="M354.20,67.20 V43.60 M351.60,67.20 H356.80 M351.60,43.60 H356.80" stroke="#3a3a3a" stroke-width="1" fill="none"/>
<path d="M370.24,73.45 V57.59 M367.64,73.45 H372.84 M367.64,57.59 H372.84" stroke="#3a3a3a" stroke-width="1" fill="none"/>
<path d="M382.37,78.12 V65.99 M379.77,78.12 H384.97 M379.77,65.99 H384.97" stroke="#3a3a3a" stroke-width="1" fill="none"/>
<path d="M394.50,84.65 V75.79 M391.90,84.65 H397.10 M391.90,75.79 H397.10" stroke="#3a3a3a" stroke-width="1" fill="none"/>
<path d="M410.54,96.78 V88.38 M407.94,96.78 H413.14 M407.94,88.38 H413.14" stroke="#3a3a3a" stroke-width="1" fill="none"/>
<path d="M273.60,37.53 V32.87 M271.00,37.53 H276.20 M271.00,32.87 H276.20" stroke="#3f8f3a" stroke-width="1" fill="none"/>
<path d="M313.90,47.33 V40.80 M311.30,47.33 H316.50 M311.30,40.80 H316.50" stroke="#3f8f3a" stroke-width="1" fill="none"/>
<path d="M342.07,50.50 V41.92 M339.47,50.50 H344.67 M339.47,41.92 H344.67" stroke="#3f8f3a" stroke-width="1" fill="none"/>
<path d="M354.20,53.39 V46.40 M351.60,53.39 H356.80 M351.60,46.40 H356.80" stroke="#3f8f3a" stroke-width="1" fill="none"/>
<path d="M273.60,45.00 V25.40 M271.00,45.00 H276.20 M271.00,25.40 H276.20" stroke="#e38b25" stroke-width="1" fill="none"/>
<path d="M313.90,71.59 V65.52 M311.30,71.59 H316.50 M311.30,65.52 H316.50" stroke="#e38b25" stroke-width="1" fill="none"/>
<circle cx="273.60" cy="35.20" r="2.10" fill="#c4c4c4"/>
<circle cx="301.77" cy="51.06" r="2.10" fill="#c4c4c4"/>
<circle cx="342.07" cy="76.53" r="2.10" fill="#c4c4c4"/>
<circle cx="354.20" cy="82.88" r="2.10" fill="#c4c4c4"/>
<circle cx="370.24" cy="89.59" r="2.10" fill="#c4c4c4"/>
<circle cx="382.37" cy="92.02" r="2.10" fill="#c4c4c4"/>
<circle cx="394.50" cy="97.71" r="2.10" fill="#c4c4c4"/>
<circle cx="410.54" cy="105.55" r="2.10" fill="#c4c4c4"/>
<circle cx="422.67" cy="108.91" r="2.10" fill="#c4c4c4"/>
<circle cx="273.60" cy="35.20" r="2.10" fill="#3a3a3a"/>
<circle cx="301.77" cy="41.08" r="2.10" fill="#3a3a3a"/>
<circle cx="313.90" cy="38.75" r="2.10" fill="#3a3a3a"/>
<circle cx="342.07" cy="45.00" r="2.10" fill="#3a3a3a"/>
<circle cx="354.20" cy="54.98" r="2.10" fill="#3a3a3a"/>
<circle cx="370.24" cy="65.80" r="2.10" fill="#3a3a3a"/>
<circle cx="382.37" cy="71.87" r="2.10" fill="#3a3a3a"/>
<circle cx="394.50" cy="80.17" r="2.10" fill="#3a3a3a"/>
<circle cx="410.54" cy="92.49" r="2.10" fill="#3a3a3a"/>
<circle cx="422.67" cy="104.62" r="2.10" fill="#3a3a3a"/>
<rect x="271.50" y="33.10" width="4.20" height="4.20" fill="#3f8f3a"/>
<rect x="299.67" y="35.62" width="4.20" height="4.20" fill="#3f8f3a"/>
<rect x="311.80" y="42.24" width="4.20" height="4.20" fill="#3f8f3a"/>
<rect x="339.97" y="42.43" width="4.20" height="4.20" fill="#3f8f3a"/>
<rect x="352.10" y="47.84" width="4.20" height="4.20" fill="#3f8f3a"/>
<rect x="368.14" y="55.03" width="4.20" height="4.20" fill="#3f8f3a"/>
<rect x="380.27" y="55.77" width="4.20" height="4.20" fill="#3f8f3a"/>
<rect x="392.40" y="59.60" width="4.20" height="4.20" fill="#3f8f3a"/>
<rect x="408.44" y="64.08" width="4.20" height="4.20" fill="#3f8f3a"/>
<rect x="420.57" y="65.01" width="4.20" height="4.20" fill="#3f8f3a"/>
<path d="M273.60,32.58 L276.12,37.09 L271.08,37.09 Z" fill="#6b1f8c"/>
<path d="M301.77,71.48 L304.29,76.00 L299.25,76.00 Z" fill="#6b1f8c"/>
<path d="M313.90,85.57 L316.42,90.08 L311.38,90.08 Z" fill="#6b1f8c"/>
<path d="M342.07,89.67 L344.59,94.19 L339.55,94.19 Z" fill="#6b1f8c"/>
<path d="M354.20,91.91 L356.72,96.43 L351.68,96.43 Z" fill="#6b1f8c"/>
<path d="M370.24,93.03 L372.76,97.55 L367.72,97.55 Z" fill="#6b1f8c"/>
<path d="M382.37,93.03 L384.89,97.55 L379.85,97.55 Z" fill="#6b1f8c"/>
<path d="M394.50,93.69 L397.02,98.20 L391.98,98.20 Z" fill="#6b1f8c"/>
<path d="M410.54,94.62 L413.06,99.13 L408.02,99.13 Z" fill="#6b1f8c"/>
<path d="M422.67,95.55 L425.19,100.07 L420.15,100.07 Z" fill="#6b1f8c"/>
<path d="M273.60,37.83 L276.12,33.31 L271.08,33.31 Z" fill="#e38b25"/>
<path d="M301.77,52.94 L304.29,48.42 L299.25,48.42 Z" fill="#e38b25"/>
<path d="M313.90,70.76 L316.42,66.24 L311.38,66.24 Z" fill="#e38b25"/>
<path d="M354.20,96.60 L356.72,92.09 L351.68,92.09 Z" fill="#e38b25"/>
<path d="M370.24,106.87 L372.76,102.35 L367.72,102.35 Z" fill="#e38b25"/>
<path d="M382.37,111.07 L384.89,106.55 L379.85,106.55 Z" fill="#e38b25"/>
<path d="M394.50,112.37 L397.02,107.86 L391.98,107.86 Z" fill="#e38b25"/>
<path d="M410.54,115.26 L413.06,110.75 L408.02,110.75 Z" fill="#e38b25"/>
<path d="M422.67,116.20 L425.19,111.68 L420.15,111.68 Z" fill="#e38b25"/>
<line x1="443.8" y1="41.80" x2="454.2" y2="41.80" stroke="#3a3a3a" stroke-width="1.45"/>
<circle cx="449.00" cy="41.80" r="1.70" fill="#3a3a3a"/>
<text x="457.70" y="44.30" font-size="8.8" text-anchor="start" font-weight="normal" fill="#1a1a1a" textLength="51.00" lengthAdjust="spacingAndGlyphs" stroke="none">Thy (1040 nM)</text>
<line x1="443.8" y1="57.90" x2="454.2" y2="57.90" stroke="#c4c4c4" stroke-width="1.45"/>
<circle cx="449.00" cy="57.90" r="1.70" fill="#c4c4c4"/>
<text x="457.70" y="60.40" font-size="8.8" text-anchor="start" font-weight="normal" fill="#1a1a1a" textLength="50.20" lengthAdjust="spacingAndGlyphs" stroke="none">HSPC (92 nM)</text>
<line x1="443.8" y1="74.80" x2="454.2" y2="74.80" stroke="#3f8f3a" stroke-width="1.45"/>
<rect x="447.30" y="73.10" width="3.40" height="3.40" fill="#3f8f3a"/>
<text x="457.70" y="77.30" font-size="8.8" text-anchor="start" font-weight="normal" fill="#1a1a1a" textLength="47.90" lengthAdjust="spacingAndGlyphs" stroke="none">J (&gt;5000 nM)</text>
<line x1="443.8" y1="91.10" x2="454.2" y2="91.10" stroke="#6b1f8c" stroke-width="1.45"/>
<path d="M449.00,88.97 L451.04,92.63 L446.96,92.63 Z" fill="#6b1f8c"/>
<text x="457.70" y="93.60" font-size="8.8" text-anchor="start" font-weight="normal" fill="#1a1a1a" textLength="40.30" lengthAdjust="spacingAndGlyphs" stroke="none">S1 (7.4 nM)</text>
<line x1="443.8" y1="107.70" x2="454.2" y2="107.70" stroke="#e38b25" stroke-width="1.45"/>
<path d="M449.00,109.83 L451.04,106.17 L446.96,106.17 Z" fill="#e38b25"/>
<text x="457.70" y="110.20" font-size="8.8" text-anchor="start" font-weight="normal" fill="#1a1a1a" textLength="53.60" lengthAdjust="spacingAndGlyphs" stroke="none">J+S1 (29.7 nM)</text>
<rect x="0.6" y="0.6" width="518.8" height="620.8" fill="none" stroke="#000" stroke-width="1.2"/>
</svg>
</body></html>
